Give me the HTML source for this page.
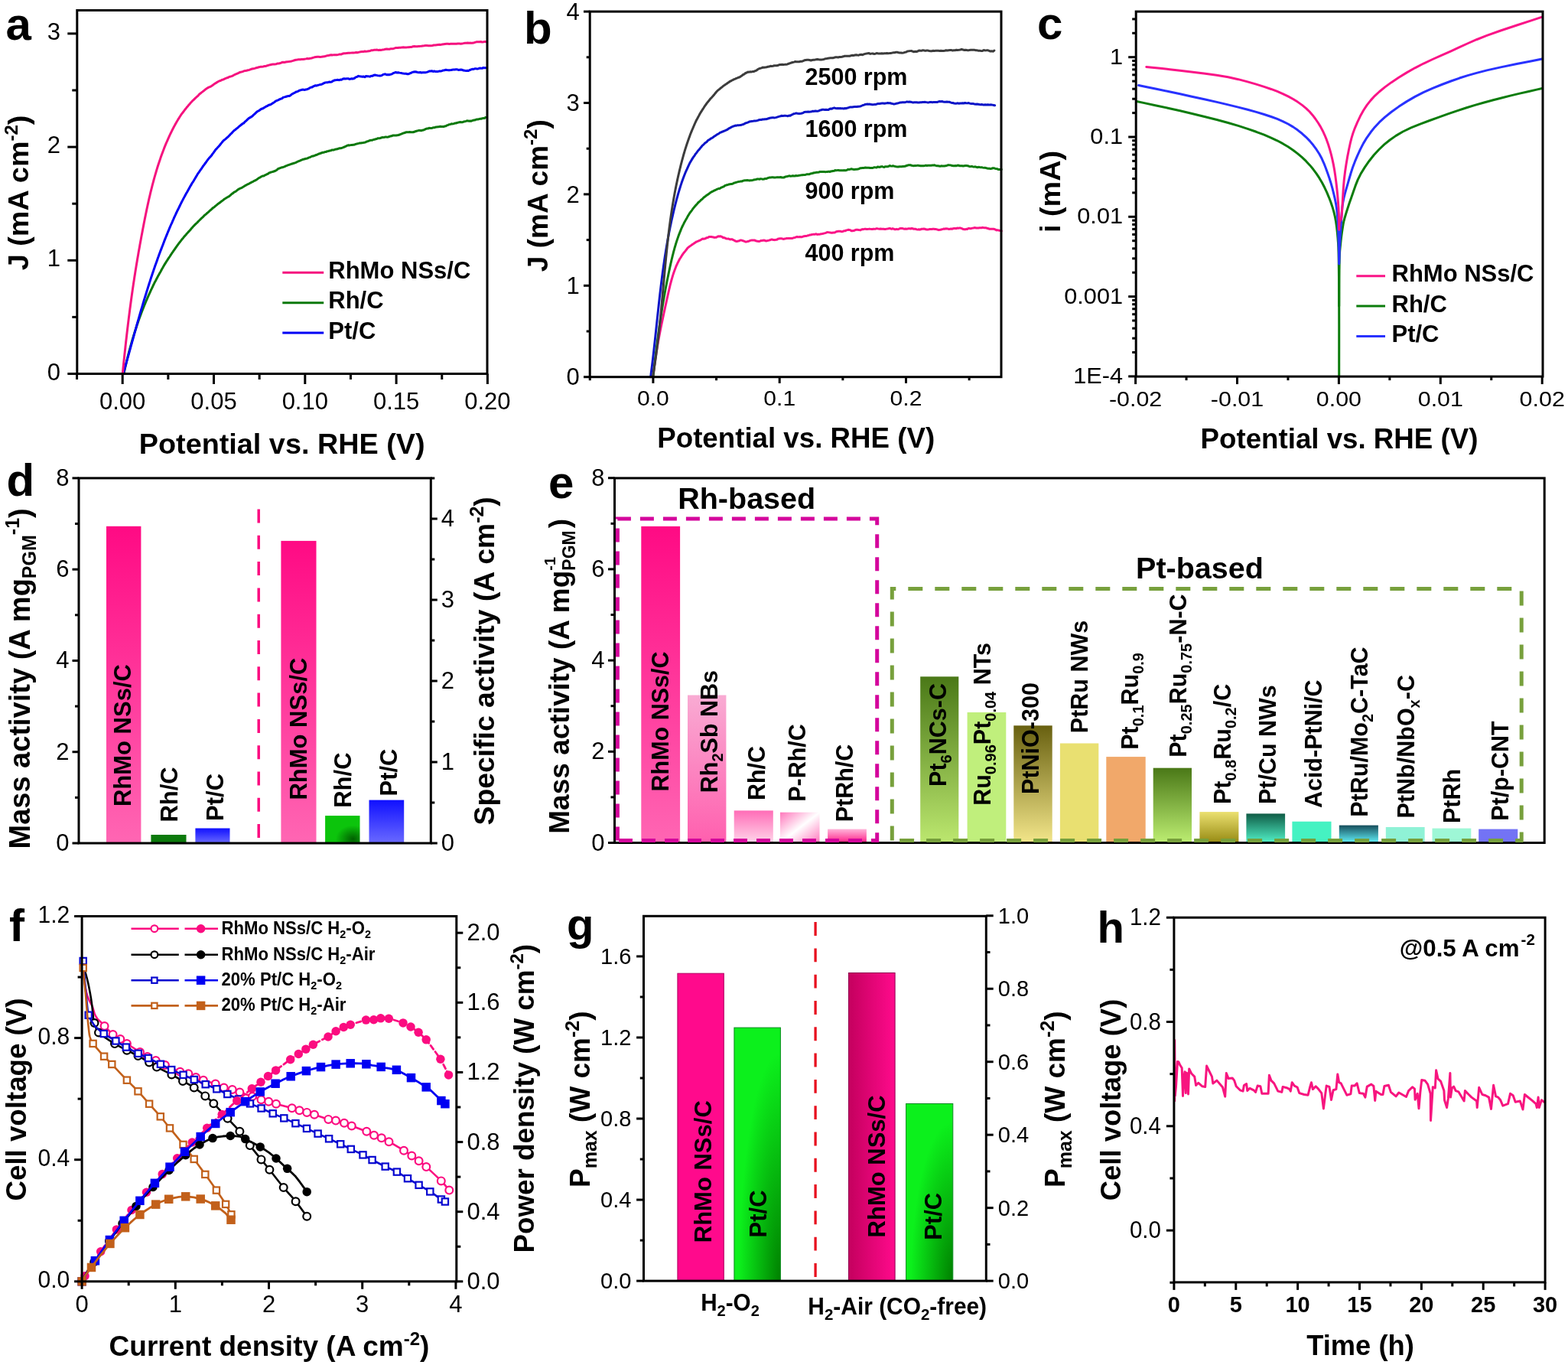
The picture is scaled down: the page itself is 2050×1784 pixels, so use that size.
<!DOCTYPE html>
<html><head><meta charset="utf-8"><title>Figure</title>
<style>html,body{margin:0;padding:0;background:#fff;}svg{display:block;}</style></head>
<body><svg xmlns="http://www.w3.org/2000/svg" width="2050" height="1784" viewBox="0 0 2050 1784" font-family="'Liberation Sans', Arial, sans-serif">
<rect width="2050" height="1784" fill="#fff"/>
<defs>
<linearGradient id="gPink" x1="0" y1="0" x2="0" y2="1"><stop offset="0" stop-color="#ff0a84"/><stop offset="1" stop-color="#ff66b3"/></linearGradient>
<linearGradient id="gBlue" x1="0" y1="0" x2="0" y2="1"><stop offset="0" stop-color="#1010ff"/><stop offset="1" stop-color="#6a6aff"/></linearGradient>
<linearGradient id="gRh2Sb" x1="0" y1="0" x2="0" y2="1"><stop offset="0" stop-color="#f9abd3"/><stop offset="1" stop-color="#ff5fae"/></linearGradient>
<linearGradient id="gRhC" x1="0" y1="0" x2="0" y2="1"><stop offset="0" stop-color="#ff6db7"/><stop offset="1" stop-color="#ffd6ea"/></linearGradient>
<linearGradient id="gPRh" x1="0" y1="0" x2="1" y2="1"><stop offset="0" stop-color="#ff78bc"/><stop offset="0.5" stop-color="#ffffff"/><stop offset="1" stop-color="#ff78bc"/></linearGradient>
<linearGradient id="gPtRh" x1="0" y1="0" x2="0" y2="1"><stop offset="0" stop-color="#ffb5da"/><stop offset="1" stop-color="#ff1f86"/></linearGradient>
<linearGradient id="gPt6" x1="0" y1="0" x2="0" y2="1"><stop offset="0" stop-color="#4a7817"/><stop offset="1" stop-color="#bce76f"/></linearGradient>
<linearGradient id="gPtNiO" x1="0" y1="0" x2="0" y2="1"><stop offset="0" stop-color="#686010"/><stop offset="1" stop-color="#f3e68a"/></linearGradient>
<linearGradient id="gPt25" x1="0" y1="0" x2="0" y2="1"><stop offset="0" stop-color="#4a7817"/><stop offset="1" stop-color="#bdee72"/></linearGradient>
<linearGradient id="gPt08" x1="0" y1="0" x2="0" y2="1"><stop offset="0" stop-color="#ebe070"/><stop offset="1" stop-color="#968a12"/></linearGradient>
<linearGradient id="gPtCu" x1="0" y1="0" x2="0" y2="1"><stop offset="0" stop-color="#0f5c46"/><stop offset="1" stop-color="#52f2c8"/></linearGradient>
<linearGradient id="gPtMo" x1="0" y1="0" x2="0" y2="1"><stop offset="0" stop-color="#174e5c"/><stop offset="1" stop-color="#62f2fa"/></linearGradient>
<radialGradient id="gGreenD" cx="0.8" cy="0.85" r="0.5"><stop offset="0" stop-color="#006000"/><stop offset="1" stop-color="#0cc40c"/></radialGradient>
<linearGradient id="gPtO2" x1="0" y1="0" x2="0" y2="1"><stop offset="0" stop-color="#10ff20"/><stop offset="0.55" stop-color="#10ee20"/><stop offset="1" stop-color="#0a9a10"/></linearGradient>
<radialGradient id="gPtO2r" cx="1.0" cy="1.0" r="0.9"><stop offset="0" stop-color="#008000"/><stop offset="1" stop-color="#0cf01c"/></radialGradient>
<linearGradient id="gRhAir" x1="0" y1="0" x2="1" y2="0"><stop offset="0" stop-color="#c4005e"/><stop offset="1" stop-color="#ff0a8c"/></linearGradient>
</defs>
<polyline points="162.13,487.54 162.44,486.13 162.74,484.69 163.06,483.26 163.37,481.83 163.69,480.41 164.01,478.96 164.34,477.54 164.67,476.12 165.01,474.66 165.35,473.23 165.69,471.78 166.04,470.32 166.39,468.87 166.75,467.41 167.11,465.94 167.47,464.49 167.84,463.05 168.21,461.6 168.59,460.17 168.97,458.75 169.36,457.31 169.74,455.86 170.14,454.42 170.54,452.99 170.94,451.53 171.34,450.1 171.75,448.63 172.17,447.17 172.59,445.68 173.01,444.22 173.44,442.8 173.87,441.35 174.31,439.93 174.75,438.53 175.2,437.1 175.65,435.65 176.1,434.26 176.56,432.82 177.02,431.37 177.49,429.93 177.96,428.47 178.44,427 178.92,425.54 179.41,424.09 179.9,422.69 180.4,421.23 180.9,419.79 181.4,418.34 181.91,416.87 182.43,415.46 182.95,414.02 183.47,412.61 184,411.19 184.53,409.86 185.07,408.34 185.61,407.01 186.16,405.57 186.72,404.17 187.27,402.69 187.84,401.34 188.4,399.87 188.98,398.48 189.56,397.08 190.14,395.75 190.73,394.25 191.32,392.93 191.92,391.57 192.52,390.14 193.13,388.7 193.74,387.37 194.36,385.98 194.98,384.57 195.61,383.19 196.24,381.79 196.88,380.42 197.52,378.98 198.17,377.56 198.83,376.27 199.49,374.84 200.15,373.34 200.82,371.97 201.5,370.64 202.18,369.21 202.86,367.92 203.55,366.71 204.25,365.38 204.95,364.08 205.66,362.71 206.37,361.36 207.09,360.12 207.82,358.8 208.55,357.38 209.28,356.18 210.02,354.92 210.77,353.48 211.52,352.08 212.27,350.84 213.04,349.37 213.8,347.97 214.58,346.63 215.36,345.37 216.14,344.12 216.93,342.85 217.73,341.55 218.53,340.38 219.34,339.13 220.15,337.85 220.97,336.68 221.8,335.5 222.63,334.19 223.47,332.93 224.31,331.56 225.16,330.28 226.01,329.14 226.87,327.93 227.74,326.69 228.61,325.52 229.49,324.21 230.37,322.84 231.26,321.59 232.16,320.34 233.06,319.12 233.97,317.86 234.88,316.76 235.8,315.6 236.73,314.4 237.66,313.08 238.6,312.03 239.54,310.92 240.49,309.7 241.45,308.6 242.41,307.59 243.38,306.5 244.35,305.19 245.33,304.21 246.32,303.1 247.31,302.11 248.3,300.94 249.31,299.89 250.31,298.57 251.33,297.43 252.35,296.23 253.37,295.2 254.4,294.16 255.44,293.16 256.48,292.19 257.53,291.25 258.58,290.11 259.64,288.99 260.7,287.97 261.77,286.97 262.84,285.89 263.92,284.78 265,283.84 266.09,282.81 267.19,281.63 268.29,280.69 269.39,279.89 270.5,278.77 271.62,277.84 272.74,277 273.86,275.81 274.99,274.72 276.13,273.92 277.27,272.74 278.41,271.76 279.56,270.98 280.72,270.11 281.88,268.93 283.04,268.25 284.21,267.18 285.38,266.24 286.56,265.34 287.75,264.63 288.93,263.59 290.13,262.73 291.32,261.87 292.53,260.8 293.73,259.96 294.94,259.25 296.16,258.43 297.38,257.78 298.6,257.06 299.83,256.44 301.06,255.26 302.3,254.15 303.54,253.13 304.79,252.38 306.04,251.22 307.29,250.68 308.54,249.93 309.8,248.9 311.07,247.86 312.34,247.08 313.61,246.43 314.88,245.94 316.16,245.31 317.44,244.59 318.73,243.8 320.02,242.93 321.31,242.13 322.61,241.52 323.91,240.75 325.21,240.37 326.51,239.48 327.82,238.96 329.13,237.93 330.45,237.61 331.76,236.63 333.08,236.14 334.41,235.39 335.73,234.72 337.06,233.61 338.39,232.58 339.72,232.03 341.06,231.13 342.39,230.47 343.74,229.96 345.08,229.95 346.42,228.82 347.77,228.32 349.12,227.71 350.47,227.16 351.83,225.91 353.19,225.49 354.55,224.96 355.91,224.66 357.27,224.22 358.64,223.77 360.01,223.24 361.38,222.48 362.75,221.39 364.13,220.28 365.5,219.96 366.88,219.4 368.26,218.81 369.65,218.68 371.03,218.18 372.42,217.57 373.81,216.96 375.2,216.42 376.6,215.74 377.99,215.39 379.39,214.79 380.79,214.29 382.19,214.1 383.59,213.43 385,213.04 386.41,212.57 387.81,211.94 389.22,211.22 390.64,210.6 392.05,210.12 393.47,209.36 394.88,208.82 396.3,208.24 397.73,208.04 399.15,207.5 400.57,207.31 402,206.87 403.42,206.16 404.85,205.63 406.28,205.04 407.72,204.24 409.15,203.98 410.58,203.72 412.02,202.98 413.46,202.55 414.9,202.02 416.34,201.23 417.78,200.81 419.22,200.26 420.67,199.74 422.12,199.29 423.56,199.15 425.01,198.5 426.46,198.39 427.91,197.68 429.36,197.43 430.82,197.05 432.27,196.85 433.73,196.06 435.18,196.09 436.64,195.91 438.1,195.25 439.56,195.02 441.02,194.77 442.49,194.18 443.95,193.82 445.41,193.74 446.88,193.32 448.34,192.92 449.81,192.22 451.28,191.7 452.75,190.8 454.22,190.16 455.69,189.74 457.16,189.9 458.63,189.61 460.1,189.61 461.58,189.27 463.05,189.15 464.53,188.53 466,188.09 467.48,187.68 468.96,187.4 470.43,186.96 471.91,187.02 473.39,186.65 474.87,186.52 476.35,186.34 477.83,185.91 479.31,184.89 480.79,184.73 482.27,184.05 483.76,183.48 485.24,183.26 486.72,183.27 488.2,182.48 489.69,182.2 491.17,181.77 492.66,181.49 494.14,180.69 495.63,180.75 497.11,180.51 498.6,179.95 500.08,179.5 501.57,179.63 503.05,179.28 504.54,178.9 506.03,179.18 507.51,179.02 509,178.51 510.49,177.95 511.97,177.79 513.46,177.1 514.94,176.95 516.43,177.03 517.92,176.97 519.4,176.73 520.89,176.51 522.38,176.05 523.86,175.44 525.35,174.91 526.83,174.12 528.32,173.75 529.8,173.25 531.29,172.8 532.77,172.65 534.26,172.75 535.74,172.5 537.23,172.68 538.71,172.85 540.19,172.73 541.68,172.24 543.16,171.73 544.64,171.29 546.12,170.88 547.6,170.54 549.08,170.45 550.56,170.7 552.04,170.25 553.52,170.04 555,169.44 556.48,168.63 557.96,168.02 559.43,168.08 560.91,167.35 562.38,167.44 563.86,167.47 565.33,167.2 566.8,166.64 568.28,166.72 569.75,166.06 571.22,165.94 572.69,165.82 574.16,165.69 575.63,165.23 577.09,165.43 578.56,165.5 580.03,165.6 581.49,164.9 582.95,164.8 584.42,163.86 585.88,163.28 587.34,162.64 588.8,162.4 590.26,161.78 591.71,161.89 593.17,161.66 594.63,161.11 596.08,161 597.53,160.54 598.98,160.08 600.43,159.7 601.88,159.6 603.33,159.67 604.78,159.65 606.22,159.07 607.67,158.84 609.11,158.41 610.55,157.87 611.99,157.94 613.43,158.2 614.87,158.1 616.3,158.18 617.74,157.51 619.17,157.07 620.6,157.04 622.03,156.39 623.46,156.02 624.88,156.03 626.31,155.66 627.73,155.28 629.15,155.26 630.57,154.72 631.99,154.61 633.41,154.54 634.82,153.45" fill="none" stroke="#0b780b" stroke-width="3" stroke-linejoin="round" stroke-linecap="round" />
<polyline points="161.56,487.22 162,485.68 162.45,484.09 162.9,482.4 163.34,480.8 163.79,479.18 164.23,477.55 164.68,475.9 165.12,474.32 165.56,472.72 166.01,471.12 166.45,469.55 166.89,467.96 167.33,466.29 167.77,464.73 168.22,463.14 168.66,461.51 169.1,459.93 169.54,458.4 169.98,456.78 170.43,455.17 170.87,453.59 171.31,451.95 171.75,450.37 172.2,448.74 172.64,447.16 173.08,445.55 173.53,443.99 173.97,442.35 174.41,440.8 174.86,439.12 175.31,437.51 175.75,435.9 176.2,434.29 176.65,432.72 177.1,431.18 177.54,429.58 177.99,427.94 178.45,426.36 178.9,424.68 179.35,423.07 179.8,421.53 180.26,420 180.71,418.39 181.17,416.84 181.63,415.25 182.09,413.57 182.55,411.96 183.01,410.31 183.48,408.72 183.94,407.12 184.41,405.55 184.87,403.92 185.34,402.42 185.81,400.84 186.29,399.28 186.76,397.63 187.23,396.05 187.71,394.41 188.19,392.76 188.67,391.18 189.15,389.67 189.64,388.1 190.12,386.49 190.61,384.95 191.1,383.34 191.6,381.75 192.09,380.15 192.59,378.62 193.09,376.99 193.59,375.38 194.09,373.77 194.6,372.17 195.11,370.5 195.62,368.91 196.13,367.38 196.64,365.72 197.16,364.15 197.68,362.58 198.21,360.99 198.73,359.41 199.26,357.85 199.79,356.28 200.33,354.69 200.86,353.12 201.4,351.49 201.95,349.94 202.49,348.31 203.04,346.75 203.59,345.24 204.15,343.7 204.7,342.16 205.27,340.61 205.83,339 206.4,337.36 206.97,335.82 207.54,334.16 208.12,332.58 208.7,331.06 209.29,329.47 209.87,327.84 210.47,326.37 211.06,324.84 211.66,323.28 212.26,321.76 212.87,320.17 213.48,318.57 214.09,316.91 214.71,315.3 215.33,313.63 215.96,312.07 216.59,310.53 217.22,308.95 217.86,307.38 218.5,305.86 219.14,304.27 219.79,302.68 220.45,301.14 221.11,299.51 221.77,297.87 222.44,296.35 223.11,294.77 223.78,293.26 224.46,291.79 225.15,290.3 225.83,288.63 226.53,287.13 227.23,285.48 227.93,283.98 228.63,282.36 229.35,280.88 230.06,279.27 230.78,277.77 231.51,276.14 232.24,274.73 232.98,273.29 233.72,271.79 234.46,270.28 235.21,268.76 235.97,267.16 236.73,265.57 237.5,264.03 238.27,262.6 239.04,261.15 239.83,259.63 240.61,258.13 241.4,256.74 242.2,255.21 243,253.76 243.81,252.36 244.63,250.98 245.45,249.43 246.27,248.05 247.1,246.63 247.94,244.93 248.78,243.42 249.63,242.2 250.48,240.55 251.34,239.05 252.2,237.95 253.07,236.53 253.95,234.97 254.83,233.55 255.72,232.01 256.62,230.47 257.52,228.99 258.42,227.36 259.34,226.13 260.26,224.88 261.18,223.51 262.11,222.16 263.05,220.92 264,219.47 264.95,218 265.9,216.69 266.87,215.41 267.84,214.04 268.81,212.78 269.8,211.4 270.79,209.99 271.78,208.56 272.79,207.38 273.8,206.04 274.81,205.12 275.83,204.03 276.87,202.76 277.9,201.17 278.95,199.88 280,198.29 281.06,196.79 282.12,195.43 283.19,194.39 284.27,193.09 285.36,191.94 286.45,190.76 287.55,189.55 288.66,187.91 289.78,186.62 290.9,185.24 292.03,183.9 293.17,182.97 294.31,182.11 295.46,181.2 296.62,180.15 297.79,179.17 298.96,177.94 300.14,176.94 301.33,175.34 302.53,174.35 303.73,173.12 304.94,171.74 306.15,170.58 307.38,169.75 308.61,168.69 309.84,167.7 311.09,166.86 312.34,165.38 313.59,164.55 314.86,163.53 316.13,162.49 317.4,161.46 318.68,160.98 319.97,159.46 321.27,158.29 322.57,157.12 323.88,155.82 325.2,154.65 326.52,153.91 327.84,153.14 329.18,152.36 330.52,151.27 331.86,149.82 333.22,148.78 334.57,147.42 335.94,146.08 337.31,145.18 338.68,144.65 340.07,143.5 341.45,142.49 342.85,142.01 344.25,141.52 345.65,140.52 347.06,139.67 348.48,138.94 349.9,138.31 351.33,137.3 352.76,137.08 354.2,136.36 355.65,135.56 357.1,134.52 358.55,133.67 360.01,132.48 361.48,131.57 362.95,131.04 364.43,130.42 365.91,129.72 367.39,129.03 368.89,128.57 370.38,127.13 371.89,126.86 373.39,126.52 374.9,126.02 376.42,125.57 377.94,125.56 379.47,124.82 381,123.52 382.53,122.59 384.07,121.75 385.62,121.04 387.16,119.98 388.72,119.7 390.27,118.84 391.83,118.07 393.4,117.69 394.97,117.21 396.54,117.11 398.11,117.42 399.69,117.07 401.28,116.72 402.86,116.14 404.45,115.36 406.05,114.18 407.65,114.11 409.25,113.15 410.85,112.39 412.46,111.69 414.07,111.99 415.68,111.27 417.3,110.89 418.92,110.47 420.54,110.28 422.16,109.37 423.79,108.47 425.42,107.87 427.05,107.71 428.69,107.72 430.32,107.01 431.96,107.2 433.61,107.02 435.25,105.82 436.9,105.04 438.54,104.68 440.2,104.58 441.85,104.36 443.5,104.73 445.16,104.06 446.81,104.14 448.47,102.96 450.13,102.8 451.8,102.96 453.46,102.75 455.12,102.7 456.79,103.48 458.46,103.09 460.13,102.75 461.8,102.91 463.47,102.24 465.14,100.93 466.81,100.42 468.49,99.37 470.16,99.87 471.84,99.89 473.51,100.26 475.19,99.96 476.87,100.77 478.55,99.45 480.23,99.65 481.91,99.86 483.59,100.13 485.27,99.19 486.96,99.37 488.64,98.31 490.32,98 492.01,98.35 493.69,98.69 495.38,98.88 497.07,98.93 498.75,98.67 500.44,97.67 502.13,97.1 503.81,96.86 505.5,97.74 507.19,97.54 508.88,97.75 510.57,97.16 512.25,96.87 513.94,95.66 515.63,95.07 517.32,94.47 519.01,95.01 520.7,94.71 522.38,95.11 524.07,95.38 525.76,95.75 527.45,96.08 529.14,96.36 530.83,96.29 532.51,96.75 534.2,96.72 535.89,95.85 537.57,95.24 539.26,94.41 540.94,93.96 542.63,93.67 544.31,94.07 546,94.51 547.68,94.66 549.36,94.52 551.05,94.98 552.73,94.76 554.41,94.71 556.09,94.82 557.77,94.38 559.45,93.82 561.12,93.1 562.8,92.95 564.48,92.77 566.15,93.42 567.82,93.02 569.5,93.58 571.17,93.38 572.84,93.4 574.51,93 576.18,93.07 577.85,92.6 579.51,91.95 581.18,91.74 582.84,91.27 584.5,91.5 586.16,91.63 587.82,91.78 589.48,91.63 591.14,91.18 592.79,90.89 594.45,91.04 596.1,90.72 597.75,90.77 599.4,91.49 601.05,91.28 602.69,91.09 604.34,91.27 605.98,92.02 607.62,92.13 609.26,92.62 610.89,92.21 612.53,92.43 614.16,91.45 615.79,90.99 617.42,90.28 619.05,90.41 620.67,89.81 622.3,89.81 623.92,90.11 625.53,89.7 627.15,89.07 628.77,89.31 630.38,89.3 631.99,88.45 633.59,88.68 635.2,88.66" fill="none" stroke="#0000f5" stroke-width="3" stroke-linejoin="round" stroke-linecap="round" />
<polyline points="160.35,487.56 160.54,485.73 160.72,483.9 160.91,482.06 161.09,480.22 161.28,478.39 161.47,476.55 161.66,474.72 161.85,472.89 162.04,471.06 162.23,469.23 162.43,467.39 162.62,465.56 162.82,463.72 163.01,461.89 163.21,460.06 163.41,458.23 163.61,456.4 163.81,454.57 164.01,452.74 164.21,450.9 164.42,449.06 164.62,447.23 164.83,445.4 165.04,443.57 165.25,441.73 165.46,439.9 165.67,438.07 165.88,436.23 166.1,434.4 166.31,432.57 166.53,430.75 166.75,428.91 166.97,427.08 167.19,425.25 167.41,423.42 167.63,421.59 167.86,419.75 168.09,417.93 168.31,416.1 168.54,414.28 168.78,412.45 169.01,410.63 169.24,408.79 169.48,406.97 169.72,405.14 169.95,403.31 170.19,401.48 170.44,399.66 170.68,397.84 170.93,396.03 171.17,394.2 171.42,392.37 171.67,390.55 171.92,388.73 172.18,386.91 172.43,385.09 172.69,383.28 172.95,381.46 173.21,379.65 173.47,377.83 173.74,376.01 174,374.19 174.27,372.38 174.54,370.55 174.82,368.74 175.09,366.93 175.37,365.12 175.64,363.31 175.92,361.51 176.2,359.71 176.49,357.91 176.77,356.11 177.06,354.3 177.35,352.5 177.64,350.69 177.94,348.87 178.23,347.06 178.53,345.26 178.83,343.45 179.13,341.65 179.43,339.86 179.74,338.05 180.05,336.25 180.36,334.45 180.67,332.65 180.98,330.85 181.29,329.07 181.61,327.28 181.93,325.49 182.25,323.7 182.57,321.89 182.89,320.09 183.22,318.29 183.54,316.49 183.87,314.69 184.2,312.9 184.53,311.09 184.87,309.31 185.2,307.51 185.54,305.72 185.88,303.93 186.22,302.12 186.56,300.31 186.9,298.5 187.25,296.71 187.59,294.91 187.94,293.11 188.29,291.31 188.64,289.5 189,287.7 189.36,285.91 189.72,284.12 190.08,282.33 190.45,280.55 190.81,278.73 191.19,276.93 191.56,275.11 191.94,273.29 192.32,271.5 192.71,269.71 193.1,267.89 193.49,266.11 193.89,264.31 194.29,262.49 194.7,260.68 195.11,258.89 195.53,257.1 195.95,255.3 196.38,253.5 196.81,251.71 197.25,249.91 197.69,248.11 198.14,246.32 198.6,244.52 199.06,242.7 199.53,240.88 200,239.09 200.48,237.3 200.97,235.5 201.46,233.72 201.96,231.93 202.47,230.15 202.98,228.36 203.51,226.55 204.04,224.77 204.57,222.95 205.12,221.11 205.67,219.3 206.23,217.52 206.8,215.75 207.38,214.02 207.97,212.27 208.56,210.51 209.17,208.71 209.78,206.89 210.4,205.09 211.03,203.35 211.68,201.55 212.33,199.76 212.99,198.02 213.66,196.27 214.34,194.41 215.03,192.66 215.73,190.92 216.44,189.19 217.17,187.43 217.9,185.73 218.65,184.03 219.4,182.31 220.17,180.53 220.95,178.85 221.74,177.1 222.55,175.41 223.36,173.74 224.19,172.05 225.03,170.3 225.88,168.68 226.75,166.95 227.63,165.3 228.52,163.77 229.42,162.04 230.34,160.4 231.27,158.78 232.22,157.3 233.18,155.57 234.15,154.12 235.14,152.55 236.14,150.99 237.16,149.41 238.19,148.06 239.23,146.71 240.3,145.29 241.37,143.91 242.46,142.53 243.57,141.17 244.7,139.65 245.83,138.42 246.99,136.98 248.16,135.7 249.35,134.33 250.55,133.06 251.77,131.71 253.01,130.64 254.27,129.42 255.54,128.18 256.82,126.97 258.12,125.84 259.44,124.5 260.77,122.97 262.12,121.97 263.48,120.87 264.86,119.86 266.25,118.78 267.66,117.58 269.08,116.48 270.51,115.55 271.96,114.62 273.42,113.87 274.89,113.38 276.38,112.5 277.88,111.51 279.39,110.39 280.91,109.23 282.45,108.39 284,107.33 285.56,106.48 287.13,105.75 288.71,105.31 290.31,104.28 291.91,103.96 293.53,103.18 295.15,102.47 296.79,101.75 298.43,101.24 300.09,100.23 301.76,99.96 303.43,99.3 305.11,98.55 306.81,97.55 308.51,96.76 310.22,96.02 311.94,95.29 313.66,94.44 315.4,94.06 317.14,93.57 318.89,92.92 320.64,92.4 322.41,92.22 324.18,91.66 325.95,91.38 327.73,90.65 329.52,90.03 331.32,89.68 333.12,89.37 334.93,88.69 336.74,88.29 338.55,87.82 340.38,87.35 342.2,87.16 344.03,86.9 345.87,86.57 347.71,86.43 349.55,85.72 351.4,85.16 353.24,84.71 355.1,84.32 356.95,84.07 358.81,84.06 360.67,83.87 362.54,83.08 364.4,83.08 366.27,82.56 368.14,81.8 370.01,81.21 371.88,81.48 373.75,81.04 375.63,80.76 377.5,80.57 379.38,80.28 381.25,79.93 383.13,79.39 385,78.76 386.87,78.32 388.75,78.01 390.62,77.63 392.49,77.82 394.36,77.46 396.23,77.4 398.1,77.14 399.96,76.87 401.83,76.43 403.69,76.68 405.55,76.3 407.4,75.95 409.26,75.37 411.11,74.84 412.96,74.59 414.81,74.32 416.66,74.32 418.5,74.48 420.35,74.33 422.19,74.06 424.03,73.85 425.87,73.31 427.7,72.7 429.54,72.57 431.37,72.05 433.2,71.78 435.03,71.88 436.86,71.73 438.69,71.67 440.52,71.65 442.34,71.38 444.17,70.87 445.99,71.02 447.81,70.22 449.63,69.75 451.45,69.64 453.27,69.6 455.09,69.17 456.9,69.28 458.72,69.12 460.53,68.89 462.34,68.9 464.16,68.82 465.97,68.45 467.78,68.66 469.59,68.1 471.4,67.67 473.2,67.48 475.01,67.57 476.82,67.06 478.63,67.18 480.43,67.09 482.24,66.74 484.04,66.45 485.85,65.68 487.65,65.65 489.46,65.19 491.26,65.24 493.06,65.11 494.87,65.65 496.67,65.31 498.47,65.38 500.27,64.95 502.08,64.68 503.88,64.33 505.68,64.07 507.49,64.21 509.29,64.25 511.09,63.64 512.89,63.68 514.7,63.41 516.5,62.81 518.3,62.39 520.11,62.53 521.91,62.24 523.72,62.3 525.52,61.9 527.33,61.86 529.13,61.89 530.94,62.04 532.75,61.87 534.56,61.77 536.36,61.55 538.17,61.45 539.98,60.78 541.79,60.57 543.6,60.77 545.42,60.7 547.23,60.47 549.04,60.38 550.86,60.22 552.67,59.91 554.49,59.74 556.31,59.49 558.13,59.56 559.95,59.7 561.77,59.74 563.59,59.73 565.42,59.49 567.24,59.05 569.07,58.97 570.9,58.73 572.73,58.53 574.56,58.34 576.39,58.4 578.22,57.98 580.06,57.68 581.89,57.41 583.73,57.22 585.57,57.15 587.41,57.39 589.26,57.29 591.1,57.32 592.95,57.28 594.8,57.27 596.65,57.29 598.5,57.07 600.36,56.88 602.21,57.27 604.07,57.09 605.93,56.63 607.8,56.35 609.66,56.25 611.53,56.03 613.4,56.13 615.27,56.12 617.15,56.3 619.02,56.08 620.9,55.43 622.78,54.81 624.67,54.8 626.55,54.78 628.44,54.54 630.33,55.06 632.23,54.83 634.12,54.41 636.02,54.75" fill="none" stroke="#f5127e" stroke-width="3" stroke-linejoin="round" stroke-linecap="round" />
<rect x="100.8" y="13.5" width="536.2" height="475" fill="none" stroke="#000" stroke-width="3"/>
<line x1="160.2" y1="488.5" x2="160.2" y2="502" stroke="#000" stroke-width="3" />
<line x1="279.5" y1="488.5" x2="279.5" y2="502" stroke="#000" stroke-width="3" />
<line x1="398.8" y1="488.5" x2="398.8" y2="502" stroke="#000" stroke-width="3" />
<line x1="518.1" y1="488.5" x2="518.1" y2="502" stroke="#000" stroke-width="3" />
<line x1="637.4" y1="488.5" x2="637.4" y2="502" stroke="#000" stroke-width="3" />
<line x1="100.55" y1="488.5" x2="100.55" y2="496" stroke="#000" stroke-width="3" />
<line x1="219.85" y1="488.5" x2="219.85" y2="496" stroke="#000" stroke-width="3" />
<line x1="339.15" y1="488.5" x2="339.15" y2="496" stroke="#000" stroke-width="3" />
<line x1="458.45" y1="488.5" x2="458.45" y2="496" stroke="#000" stroke-width="3" />
<line x1="577.75" y1="488.5" x2="577.75" y2="496" stroke="#000" stroke-width="3" />
<line x1="100.8" y1="488.5" x2="88.3" y2="488.5" stroke="#000" stroke-width="3" />
<line x1="100.8" y1="340.3" x2="88.3" y2="340.3" stroke="#000" stroke-width="3" />
<line x1="100.8" y1="192.1" x2="88.3" y2="192.1" stroke="#000" stroke-width="3" />
<line x1="100.8" y1="43.9" x2="88.3" y2="43.9" stroke="#000" stroke-width="3" />
<line x1="100.8" y1="414.4" x2="94.3" y2="414.4" stroke="#000" stroke-width="3" />
<line x1="100.8" y1="266.2" x2="94.3" y2="266.2" stroke="#000" stroke-width="3" />
<line x1="100.8" y1="118" x2="94.3" y2="118" stroke="#000" stroke-width="3" />
<text x="160.2" y="535.4" font-size="31" text-anchor="middle" fill="#000">0.00</text>
<text x="279.5" y="535.4" font-size="31" text-anchor="middle" fill="#000">0.05</text>
<text x="398.8" y="535.4" font-size="31" text-anchor="middle" fill="#000">0.10</text>
<text x="518.1" y="535.4" font-size="31" text-anchor="middle" fill="#000">0.15</text>
<text x="637.4" y="535.4" font-size="31" text-anchor="middle" fill="#000">0.20</text>
<text x="79" y="496.5" font-size="31" text-anchor="end" fill="#000">0</text>
<text x="79" y="348.3" font-size="31" text-anchor="end" fill="#000">1</text>
<text x="79" y="200.1" font-size="31" text-anchor="end" fill="#000">2</text>
<text x="79" y="51.9" font-size="31" text-anchor="end" fill="#000">3</text>
<line x1="369.3" y1="356.2" x2="423.2" y2="356.2" stroke="#f5127e" stroke-width="3" />
<text x="429.3" y="363.8" font-size="31" font-weight="bold" text-anchor="start" fill="#000">RhMo NSs/C</text>
<line x1="369.3" y1="395.65" x2="423.2" y2="395.65" stroke="#0b780b" stroke-width="3" />
<text x="429.3" y="403.25" font-size="31" font-weight="bold" text-anchor="start" fill="#000">Rh/C</text>
<line x1="369.3" y1="435.1" x2="423.2" y2="435.1" stroke="#0000f5" stroke-width="3" />
<text x="429.3" y="442.7" font-size="31" font-weight="bold" text-anchor="start" fill="#000">Pt/C</text>
<text x="368.7" y="592.7" font-size="37.8" font-weight="bold" text-anchor="middle" fill="#000">Potential vs. RHE (V)</text>
<text x="36.7" y="251.9" font-size="37.8" font-weight="bold" text-anchor="middle" transform="rotate(-90 36.7 251.9)">J (mA cm<tspan font-size="24" dy="-14">-2</tspan><tspan dy="14">)</tspan></text>
<text x="7.5" y="51.5" font-size="60" font-weight="bold" text-anchor="start" fill="#000">a</text>
<polyline points="853.98,493 854.13,491.59 854.27,490.18 854.42,488.78 854.57,487.39 854.73,486 854.89,484.62 855.05,483.24 855.21,481.87 855.37,480.51 855.54,479.15 855.71,477.81 855.88,476.47 856.06,475.12 856.24,473.79 856.42,472.45 856.6,471.12 856.79,469.79 856.97,468.47 857.16,467.14 857.36,465.83 857.55,464.53 857.75,463.23 857.95,461.93 858.15,460.64 858.35,459.35 858.56,458.05 858.77,456.77 858.98,455.47 859.19,454.18 859.41,452.89 859.62,451.63 859.84,450.34 860.06,449.08 860.29,447.84 860.51,446.58 860.74,445.32 860.97,444.05 861.2,442.79 861.43,441.51 861.67,440.25 861.9,438.98 862.14,437.74 862.38,436.47 862.63,435.22 862.87,433.95 863.12,432.71 863.36,431.45 863.61,430.21 863.86,428.95 864.12,427.71 864.37,426.43 864.63,425.19 864.89,423.92 865.14,422.68 865.41,421.41 865.67,420.16 865.93,418.88 866.2,417.63 866.46,416.35 866.73,415.1 867,413.83 867.27,412.57 867.55,411.29 867.82,410.02 868.09,408.73 868.37,407.45 868.65,406.16 868.93,404.86 869.21,403.56 869.49,402.28 869.77,401 870.06,399.72 870.34,398.44 870.63,397.15 870.91,395.84 871.2,394.51 871.49,393.19 871.78,391.88 872.07,390.54 872.37,389.2 872.66,387.88 872.95,386.54 873.25,385.19 873.55,383.86 873.85,382.51 874.16,381.16 874.47,379.83 874.78,378.47 875.09,377.12 875.42,375.79 875.74,374.39 876.07,373.02 876.41,371.67 876.75,370.33 877.11,368.99 877.46,367.67 877.83,366.36 878.2,365 878.58,363.67 878.97,362.35 879.37,361.03 879.77,359.65 880.19,358.34 880.62,357.02 881.06,355.71 881.51,354.47 881.97,353.21 882.44,351.97 882.92,350.72 883.42,349.45 883.93,348.08 884.45,346.91 884.98,345.78 885.53,344.59 886.1,343.37 886.68,342.28 887.27,341.09 887.88,339.95 888.51,338.79 889.15,337.73 889.81,336.76 890.48,335.66 891.18,334.55 891.89,333.41 892.62,332.32 893.37,331.23 894.14,330.36 894.92,329.27 895.73,328.4 896.56,327.32 897.4,326.23 898.27,325.08 899.16,324.02 900.08,323.17 901.01,322.5 901.97,321.87 902.95,321.16 903.95,320.42 904.97,319.59 906.02,318.98 907.08,318.29 908.16,317.51 909.26,316.87 910.38,315.97 911.51,315.58 912.66,315.11 913.83,314.62 915.01,314.05 916.2,313.58 917.4,312.82 918.62,312.11 919.85,312.2 921.08,311.98 922.33,311.74 923.59,310.83 924.85,310.82 926.12,310.1 927.4,309.43 928.68,309.46 929.97,309.49 931.26,309.86 932.56,309.99 933.85,310.45 935.15,310.34 936.45,310.22 937.75,309.4 939.05,308.85 940.35,308.97 941.64,308.67 942.94,309.16 944.22,309.71 945.51,310.72 946.79,310.62 948.06,311.09 949.33,311.84 950.6,312.13 951.87,311.91 953.14,312.37 954.41,312.9 955.68,312.74 956.96,312.66 958.24,313.42 959.53,313.95 960.82,314.79 962.11,315.21 963.4,315.48 964.7,315.07 966,314.97 967.3,314.24 968.6,313.89 969.9,314.14 971.2,314.75 972.51,315.01 973.81,315.67 975.12,316.17 976.43,315.83 977.73,315.51 979.04,315.22 980.34,314.62 981.65,314.14 982.96,313.94 984.27,313.89 985.57,313.99 986.88,314.11 988.19,314.81 989.5,315.17 990.81,315.26 992.12,315.46 993.43,315.32 994.73,314.44 996.04,314.51 997.35,314.13 998.66,314.08 999.98,314.28 1001.29,314.9 1002.6,314.82 1003.91,314.39 1005.22,314.15 1006.53,313.81 1007.84,313.29 1009.15,312.89 1010.47,313.46 1011.78,313.39 1013.09,313.67 1014.4,313.33 1015.72,313.17 1017.03,312.3 1018.34,311.93 1019.66,311.7 1020.97,311.78 1022.28,311.84 1023.6,312.32 1024.91,312.44 1026.23,311.95 1027.54,311.79 1028.85,311.4 1030.17,311.61 1031.48,311.47 1032.8,311.48 1034.11,311.57 1035.43,311.61 1036.74,311.08 1038.06,310.61 1039.38,310.4 1040.69,309.88 1042.01,309.53 1043.32,309.7 1044.64,309.7 1045.95,309.62 1047.27,309.69 1048.59,309.68 1049.9,309.2 1051.22,308.75 1052.54,308.6 1053.85,308.53 1055.17,308.16 1056.49,307.71 1057.8,307.44 1059.12,306.96 1060.44,306.94 1061.75,306.38 1063.07,306.32 1064.39,306.23 1065.7,306.15 1067.02,305.78 1068.34,306.42 1069.65,306.32 1070.97,306.25 1072.29,306.07 1073.61,305.84 1074.92,305.61 1076.24,305.32 1077.56,304.91 1078.87,304.58 1080.19,304.17 1081.51,303.45 1082.83,303.63 1084.14,303.81 1085.46,303.89 1086.78,304.32 1088.09,304.33 1089.41,304.08 1090.73,304.02 1092.04,303.55 1093.36,302.67 1094.68,302.45 1095.99,302.33 1097.31,302.29 1098.63,302.22 1099.94,302.68 1101.26,302.66 1102.58,302.21 1103.89,301.63 1105.21,301.7 1106.53,300.88 1107.84,300.6 1109.16,300.27 1110.47,300.39 1111.79,300.83 1113.11,301.79 1114.42,301.83 1115.74,301.6 1117.05,301.27 1118.37,300.44 1119.68,300.16 1121,300.27 1122.31,300.41 1123.63,300.63 1124.94,300.89 1126.26,299.94 1127.57,299.6 1128.89,299.63 1130.2,299.34 1131.51,299.17 1132.83,299.41 1134.14,299.52 1135.46,299.38 1136.77,299.1 1138.08,299.38 1139.4,299.5 1140.71,299.51 1142.02,299.23 1143.34,299.36 1144.65,299.16 1145.96,298.73 1147.27,298.86 1148.59,299.12 1149.9,299.23 1151.21,298.98 1152.53,299.32 1153.84,299.33 1155.15,299.31 1156.46,299.58 1157.78,299.41 1159.09,299.13 1160.4,299 1161.71,298.84 1163.03,298.38 1164.34,298.78 1165.65,299.3 1166.97,298.7 1168.28,299.08 1169.59,299.63 1170.91,299.71 1172.22,299.37 1173.53,299.66 1174.85,299.48 1176.16,298.76 1177.47,298.43 1178.79,298.45 1180.1,298.58 1181.41,298.95 1182.73,299.19 1184.04,298.92 1185.36,299.23 1186.67,299.03 1187.98,298.65 1189.3,298.69 1190.61,298.98 1191.93,298.5 1193.24,298.72 1194.56,299.37 1195.88,299.27 1197.19,299.34 1198.51,299.87 1199.82,300.12 1201.14,299.8 1202.46,300.17 1203.77,299.74 1205.09,299.28 1206.41,299.14 1207.73,299.09 1209.04,299.21 1210.36,299.8 1211.68,299.96 1213,299.94 1214.32,299.78 1215.64,299.53 1216.96,299.58 1218.28,299.56 1219.6,299.35 1220.92,299.2 1222.24,299.4 1223.56,299.54 1224.88,299.85 1226.2,300.24 1227.52,300.63 1228.85,300.35 1230.17,300.18 1231.49,299.67 1232.82,299.39 1234.14,298.99 1235.47,299.14 1236.79,298.81 1238.12,299 1239.44,299.11 1240.77,299.57 1242.09,299.16 1243.42,299.02 1244.75,299.2 1246.08,298.78 1247.4,298.51 1248.73,298.51 1250.06,298.66 1251.39,297.97 1252.72,298.35 1254.05,298.06 1255.37,297.93 1256.7,298.4 1258.03,298.95 1259.36,299.57 1260.69,299.74 1262.01,299.83 1263.34,299.31 1264.67,299.49 1266,298.6 1267.32,298.58 1268.65,298.76 1269.97,298.5 1271.3,298.13 1272.62,298.01 1273.95,297.6 1275.27,297.69 1276.59,298.08 1277.91,298.08 1279.24,298.01 1280.56,297.86 1281.87,297.82 1283.19,297.69 1284.51,297.33 1285.83,297.61 1287.14,297.81 1288.45,297.78 1289.77,297.95 1291.08,298.55 1292.39,298.75 1293.7,299.29 1295.01,299.18 1296.31,299.23 1297.62,299.21 1298.92,299.3 1300.22,299.54 1301.52,300.18 1302.82,300.89 1304.12,300.67 1305.41,301.09 1306.71,301.27 1308,301.4 1309.29,301.93" fill="none" stroke="#fa1487" stroke-width="3" stroke-linejoin="round" stroke-linecap="round" />
<polyline points="853.89,492.7 854.05,491.24 854.21,489.8 854.37,488.36 854.53,486.91 854.69,485.48 854.85,484.04 855.01,482.59 855.17,481.15 855.34,479.71 855.5,478.27 855.67,476.84 855.83,475.42 856,474 856.16,472.57 856.33,471.15 856.5,469.72 856.67,468.29 856.84,466.86 857.01,465.43 857.18,464.01 857.35,462.58 857.53,461.17 857.7,459.75 857.87,458.33 858.05,456.91 858.23,455.5 858.4,454.08 858.58,452.67 858.76,451.26 858.94,449.85 859.13,448.43 859.31,447.01 859.49,445.6 859.68,444.18 859.86,442.77 860.05,441.36 860.24,439.96 860.43,438.55 860.62,437.15 860.81,435.74 861.01,434.33 861.2,432.91 861.4,431.51 861.6,430.1 861.8,428.69 862,427.3 862.2,425.89 862.4,424.48 862.61,423.08 862.81,421.69 863.02,420.27 863.23,418.87 863.44,417.48 863.65,416.07 863.86,414.67 864.08,413.28 864.3,411.87 864.52,410.47 864.74,409.08 864.96,407.66 865.18,406.26 865.41,404.86 865.63,403.46 865.86,402.04 866.09,400.65 866.33,399.25 866.56,397.85 866.8,396.44 867.03,395.06 867.27,393.65 867.52,392.24 867.76,390.82 868.01,389.42 868.25,388.01 868.5,386.6 868.76,385.19 869.01,383.8 869.26,382.36 869.52,380.94 869.78,379.51 870.04,378.1 870.31,376.69 870.58,375.31 870.84,373.89 871.12,372.5 871.39,371.08 871.66,369.64 871.94,368.21 872.22,366.8 872.5,365.37 872.79,363.94 873.07,362.54 873.36,361.11 873.66,359.7 873.95,358.28 874.25,356.9 874.55,355.47 874.85,354.04 875.15,352.6 875.46,351.15 875.77,349.7 876.08,348.28 876.39,346.83 876.71,345.4 877.03,343.99 877.36,342.52 877.69,341.08 878.02,339.66 878.36,338.25 878.71,336.81 879.06,335.39 879.41,333.95 879.77,332.55 880.13,331.08 880.51,329.68 880.88,328.24 881.27,326.83 881.66,325.37 882.06,323.95 882.47,322.49 882.88,321.12 883.3,319.7 883.73,318.27 884.17,316.91 884.62,315.55 885.07,314.13 885.54,312.77 886.01,311.36 886.49,309.97 886.99,308.52 887.49,307.15 888.01,305.84 888.53,304.53 889.07,303.14 889.62,301.81 890.17,300.42 890.74,298.96 891.33,297.69 891.92,296.31 892.53,295.01 893.15,293.82 893.78,292.58 894.42,291.21 895.08,290.08 895.75,288.85 896.43,287.63 897.12,286.34 897.83,285.29 898.55,283.89 899.28,282.55 900.03,281.22 900.78,280.07 901.56,278.77 902.34,277.66 903.14,276.68 903.95,275.68 904.78,274.53 905.62,273.27 906.47,272.18 907.33,271.1 908.21,269.97 909.11,268.94 910.02,267.93 910.94,266.94 911.87,265.94 912.82,264.77 913.79,263.98 914.77,263.16 915.76,262.25 916.77,261.12 917.79,260.49 918.82,259.42 919.88,258.3 920.94,257.51 922.02,256.7 923.12,255.83 924.23,255.04 925.35,254.39 926.49,253.51 927.64,252.75 928.8,251.68 929.98,250.93 931.17,250.48 932.37,249.78 933.58,249.19 934.8,248.59 936.04,248.06 937.28,247.34 938.54,246.92 939.8,246.43 941.08,246.42 942.37,245.44 943.66,244.84 944.97,244.24 946.28,243.86 947.6,242.59 948.94,242.19 950.27,241.74 951.62,241.42 952.98,241.04 954.34,240.64 955.71,240.55 957.08,240.45 958.46,239.86 959.85,239.02 961.25,238.87 962.65,238.2 964.05,237.89 965.46,237.53 966.88,237.38 968.3,237.06 969.73,237.07 971.16,236.32 972.59,235.9 974.03,235.75 975.47,235.68 976.92,235.6 978.36,235.63 979.82,235.94 981.27,235.74 982.73,235.67 984.19,235.43 985.65,235.02 987.11,234.85 988.58,234.56 990.04,233.95 991.51,234.04 992.98,234.23 994.45,233.66 995.92,233.87 997.38,234.34 998.85,234.06 1000.32,233.48 1001.79,233.52 1003.26,232.9 1004.72,232.38 1006.19,231.94 1007.65,231.88 1009.11,231.81 1010.57,231.73 1012.03,231.89 1013.49,231.92 1014.94,231.83 1016.39,231.61 1017.84,231.82 1019.29,231.79 1020.74,231.54 1022.18,231.95 1023.62,231.9 1025.06,231.88 1026.5,231.13 1027.94,230.78 1029.38,230.5 1030.81,230.15 1032.24,229.81 1033.68,230.26 1035.11,230.01 1036.54,229.67 1037.96,230.03 1039.39,229.95 1040.82,229.53 1042.24,229.85 1043.66,229.58 1045.09,229.14 1046.51,229.1 1047.93,228.86 1049.35,228.71 1050.77,228.62 1052.19,228.45 1053.61,228.17 1055.03,227.81 1056.44,227.79 1057.86,227.76 1059.28,227.16 1060.69,226.73 1062.11,226.48 1063.52,225.97 1064.94,225.69 1066.35,225.51 1067.77,225.23 1069.18,225.21 1070.6,224.96 1072.01,224.54 1073.43,224.4 1074.84,224.57 1076.26,224.57 1077.67,224.39 1079.09,224.65 1080.51,224.62 1081.92,224.55 1083.34,224.15 1084.76,224.53 1086.17,224.04 1087.59,223.8 1089.01,223.54 1090.43,223.37 1091.85,222.62 1093.27,222.64 1094.69,222.61 1096.11,222.47 1097.53,222.68 1098.95,222.86 1100.37,222.69 1101.79,222.84 1103.21,222.61 1104.63,222.7 1106.06,222.73 1107.48,222.09 1108.9,221.37 1110.32,221.61 1111.75,221.11 1113.17,220.8 1114.59,221.11 1116.02,221.47 1117.44,221.5 1118.87,221.31 1120.29,221.16 1121.72,221.07 1123.14,220.62 1124.57,219.76 1125.99,219.75 1127.42,219.61 1128.85,219.59 1130.27,219.27 1131.7,218.99 1133.13,219.34 1134.55,219.19 1135.98,219.18 1137.41,219.45 1138.84,219.55 1140.27,219.55 1141.69,219.2 1143.12,218.68 1144.55,218.85 1145.98,218.92 1147.41,217.92 1148.84,218.16 1150.27,218.46 1151.7,217.84 1153.13,217.61 1154.56,218.11 1155.99,218.44 1157.42,217.63 1158.85,217.74 1160.28,217.8 1161.71,217.31 1163.14,216.56 1164.58,216.92 1166.01,217.13 1167.44,216.8 1168.87,217.15 1170.3,217.5 1171.73,217.76 1173.17,217.94 1174.6,218.01 1176.03,217.73 1177.46,217.71 1178.9,217.75 1180.33,217.55 1181.76,217.51 1183.2,217.35 1184.63,216.75 1186.06,216.29 1187.5,215.8 1188.93,215.75 1190.36,215.73 1191.8,216.21 1193.23,216.48 1194.66,216.65 1196.1,216.45 1197.53,216.5 1198.97,216.37 1200.4,216.35 1201.83,216.38 1203.27,216.83 1204.7,216.66 1206.14,216.69 1207.57,216.65 1209.01,216.5 1210.44,216.11 1211.88,216.55 1213.31,216.15 1214.75,216.13 1216.18,216.15 1217.62,216.24 1219.05,215.89 1220.49,216.02 1221.92,215.85 1223.36,216.36 1224.79,216.8 1226.23,216.84 1227.66,217.08 1229.1,217.32 1230.53,216.81 1231.97,216.93 1233.4,216.99 1234.84,217.05 1236.27,216.64 1237.7,216.5 1239.14,215.86 1240.57,215.73 1242.01,215.87 1243.44,216.07 1244.88,216.59 1246.31,216.78 1247.75,216.75 1249.18,216.6 1250.62,216.64 1252.05,216.08 1253.49,216.26 1254.92,216.83 1256.36,216.81 1257.79,216.69 1259.23,216.98 1260.66,216.75 1262.09,216.49 1263.53,216.39 1264.96,216.73 1266.4,217.04 1267.83,217.74 1269.26,217.61 1270.7,217.44 1272.13,217.96 1273.56,218.12 1275,217.82 1276.43,218.32 1277.86,218.7 1279.3,218.34 1280.73,218.51 1282.16,218.64 1283.6,218.68 1285.03,219.13 1286.46,219.36 1287.89,219.27 1289.33,219.6 1290.76,220.03 1292.19,220.36 1293.62,220.27 1295.05,220.65 1296.48,220.23 1297.92,219.73 1299.35,219.67 1300.78,220.17 1302.21,220.47 1303.64,220.68 1305.07,221.44 1306.5,221.39 1307.93,221.45 1309.36,221.53" fill="none" stroke="#0c7c0c" stroke-width="3" stroke-linejoin="round" stroke-linecap="round" />
<polyline points="850.56,492.76 850.77,491.17 850.98,489.59 851.19,488.02 851.39,486.43 851.59,484.86 851.79,483.29 851.99,481.71 852.19,480.13 852.39,478.55 852.58,476.97 852.77,475.4 852.96,473.83 853.15,472.26 853.34,470.69 853.53,469.11 853.71,467.54 853.9,465.97 854.08,464.41 854.26,462.83 854.44,461.26 854.62,459.68 854.8,458.11 854.97,456.54 855.15,454.98 855.32,453.41 855.5,451.85 855.67,450.27 855.84,448.71 856.02,447.14 856.19,445.57 856.36,444.01 856.53,442.44 856.7,440.88 856.86,439.32 857.03,437.75 857.2,436.19 857.37,434.63 857.53,433.06 857.7,431.5 857.87,429.94 858.03,428.38 858.2,426.82 858.36,425.26 858.53,423.7 858.7,422.14 858.86,420.58 859.03,419.02 859.19,417.46 859.36,415.9 859.53,414.34 859.69,412.78 859.86,411.22 860.03,409.67 860.19,408.11 860.36,406.56 860.53,405 860.7,403.44 860.87,401.89 861.04,400.33 861.21,398.77 861.38,397.2 861.55,395.65 861.73,394.09 861.9,392.54 862.08,390.98 862.25,389.43 862.43,387.87 862.61,386.31 862.79,384.76 862.97,383.21 863.15,381.66 863.33,380.11 863.51,378.56 863.7,377 863.89,375.45 864.07,373.91 864.26,372.36 864.45,370.79 864.65,369.24 864.84,367.68 865.04,366.13 865.23,364.57 865.43,363.02 865.63,361.46 865.84,359.91 866.04,358.35 866.25,356.81 866.45,355.26 866.67,353.72 866.88,352.17 867.09,350.62 867.31,349.07 867.53,347.52 867.75,345.95 867.97,344.4 868.2,342.85 868.43,341.29 868.66,339.73 868.89,338.19 869.12,336.66 869.36,335.1 869.6,333.55 869.85,332.01 870.09,330.45 870.34,328.89 870.59,327.34 870.85,325.79 871.1,324.22 871.36,322.68 871.63,321.13 871.89,319.57 872.16,317.99 872.43,316.45 872.71,314.88 872.99,313.32 873.27,311.76 873.55,310.22 873.84,308.68 874.13,307.13 874.43,305.59 874.73,304.03 875.03,302.49 875.34,300.94 875.64,299.38 875.96,297.81 876.27,296.26 876.59,294.7 876.92,293.13 877.25,291.58 877.58,290.03 877.92,288.49 878.25,286.95 878.6,285.4 878.95,283.85 879.3,282.3 879.66,280.74 880.02,279.17 880.38,277.61 880.75,276.03 881.12,274.44 881.5,272.88 881.88,271.32 882.27,269.77 882.66,268.21 883.06,266.67 883.46,265.12 883.86,263.56 884.27,261.99 884.69,260.43 885.11,258.86 885.53,257.31 885.96,255.77 886.4,254.2 886.84,252.65 887.29,251.11 887.75,249.59 888.21,247.98 888.68,246.46 889.16,244.94 889.65,243.41 890.14,241.86 890.65,240.36 891.16,238.85 891.68,237.32 892.21,235.77 892.76,234.25 893.31,232.77 893.87,231.23 894.45,229.75 895.03,228.25 895.63,226.75 896.24,225.25 896.86,223.84 897.49,222.42 898.14,221.09 898.8,219.61 899.47,218.16 900.16,216.58 900.86,215.15 901.58,213.61 902.31,212.32 903.05,210.99 903.81,209.69 904.59,208.39 905.38,207.12 906.19,205.84 907.02,204.71 907.86,203.58 908.72,202.21 909.6,200.93 910.49,199.85 911.41,198.55 912.34,197.35 913.29,196.32 914.26,195.26 915.25,193.87 916.26,192.71 917.29,191.51 918.33,190.17 919.4,189.3 920.48,188.26 921.58,187.12 922.7,186.24 923.83,185.62 924.98,184.2 926.15,183.18 927.34,182.66 928.54,181.74 929.75,180.81 930.98,180.32 932.23,179.53 933.49,178.39 934.77,177.74 936.05,176.83 937.36,175.84 938.67,175.21 940,174.52 941.35,173.24 942.7,172.92 944.07,172.21 945.45,171.76 946.84,171.19 948.24,170.61 949.65,169.91 951.08,169.28 952.51,168.12 953.95,167.43 955.41,166.59 956.87,165.79 958.34,165.13 959.83,164.74 961.31,164.04 962.81,164.17 964.32,163.69 965.83,163.63 967.35,163.61 968.87,163.45 970.4,162.89 971.94,162.47 973.48,161.63 975.03,160.73 976.58,160.45 978.13,159.86 979.69,158.97 981.25,158.72 982.82,158.55 984.39,158.38 985.96,158.08 987.53,157.99 989.11,157.78 990.69,157.36 992.26,156.76 993.84,156.51 995.42,156.47 997,156.02 998.57,155.99 1000.15,155.71 1001.73,155.68 1003.3,155.25 1004.88,154.76 1006.45,154.25 1008.02,153.9 1009.6,153.75 1011.17,153.82 1012.74,153.88 1014.31,153.61 1015.88,153.12 1017.45,152.59 1019.02,152.15 1020.59,151.8 1022.16,151.3 1023.73,151.6 1025.3,151.14 1026.86,151.24 1028.43,151.38 1030,151.77 1031.56,151.02 1033.13,151.15 1034.69,150.19 1036.25,149.59 1037.82,148.62 1039.38,148.42 1040.94,147.92 1042.51,148.26 1044.07,148.38 1045.63,148.43 1047.19,148.32 1048.75,147.99 1050.31,147.27 1051.87,146.37 1053.43,146.19 1054.99,146.18 1056.55,146.01 1058.11,146.16 1059.67,146.1 1061.23,145.71 1062.79,145.23 1064.34,145.41 1065.9,144.99 1067.46,145.25 1069.02,145.2 1070.57,144.86 1072.13,143.96 1073.69,143.77 1075.24,143.16 1076.8,143.26 1078.35,143.43 1079.91,143.31 1081.46,143.43 1083.02,143.59 1084.57,142.48 1086.13,141.92 1087.68,142.18 1089.24,141.39 1090.79,140.9 1092.35,141.52 1093.9,141.64 1095.46,141.49 1097.01,141.83 1098.57,141.6 1100.12,141.86 1101.68,141.73 1103.23,141.95 1104.78,141.55 1106.34,141.71 1107.89,141.04 1109.45,140.69 1111,140.07 1112.56,140.02 1114.11,139.9 1115.66,139.72 1117.22,139.59 1118.77,139.46 1120.33,139.57 1121.88,139.23 1123.44,139.13 1124.99,138.98 1126.55,138.23 1128.1,137.5 1129.66,137.11 1131.22,136.47 1132.77,136.13 1134.33,136.02 1135.88,136.15 1137.44,136.09 1139,136.57 1140.55,136.67 1142.11,136.64 1143.67,136.38 1145.23,136.39 1146.78,135.79 1148.34,135.48 1149.9,135.4 1151.46,135.15 1153.02,135.08 1154.58,135.04 1156.14,135.29 1157.7,134.93 1159.26,134.8 1160.82,134.54 1162.38,134.86 1163.94,134.73 1165.5,135.32 1167.07,135.65 1168.63,136.03 1170.19,135.74 1171.76,135.33 1173.32,135.11 1174.89,134.62 1176.45,134.1 1178.02,133.95 1179.58,133.82 1181.15,133.73 1182.72,133.74 1184.28,133.42 1185.85,132.92 1187.42,133.16 1188.99,133.09 1190.56,133.35 1192.13,133.6 1193.7,133.91 1195.27,133.77 1196.84,133.66 1198.42,133.76 1199.99,134.01 1201.56,134.09 1203.14,133.77 1204.71,133.71 1206.29,133.43 1207.87,133.46 1209.44,133.36 1211.02,133.62 1212.6,133.89 1214.18,133.88 1215.76,133.59 1217.34,133.36 1218.92,133.69 1220.5,133.59 1222.08,133.47 1223.66,133.53 1225.24,133.53 1226.83,132.88 1228.41,132.51 1229.99,132.78 1231.57,132.55 1233.16,132.95 1234.74,133.14 1236.32,133.2 1237.9,133.04 1239.49,133.25 1241.07,133.13 1242.65,133.9 1244.23,134.46 1245.81,134.54 1247.39,135.01 1248.97,135.18 1250.55,135.15 1252.13,134.81 1253.71,135.3 1255.29,134.93 1256.87,134.92 1258.45,134.77 1260.02,134.98 1261.6,134.42 1263.17,134.68 1264.75,134.88 1266.32,134.54 1267.89,135.13 1269.47,135.42 1271.04,135.46 1272.61,135.58 1274.17,136.08 1275.74,136.19 1277.31,135.97 1278.87,136.22 1280.44,136.58 1282,136.72 1283.56,136.55 1285.12,136.89 1286.68,137.06 1288.23,136.83 1289.79,136.89 1291.34,136.75 1292.89,137.03 1294.44,137 1295.99,136.85 1297.54,137.15 1299.08,137.43 1300.63,137.78" fill="none" stroke="#0a14c8" stroke-width="3" stroke-linejoin="round" stroke-linecap="round" />
<polyline points="853.25,492.82 853.55,491.11 853.84,489.41 854.13,487.7 854.42,485.99 854.7,484.29 854.98,482.6 855.25,480.9 855.52,479.19 855.79,477.5 856.05,475.81 856.31,474.12 856.56,472.41 856.81,470.72 857.06,469.02 857.3,467.33 857.54,465.63 857.78,463.93 858.01,462.23 858.24,460.53 858.47,458.83 858.7,457.15 858.92,455.46 859.14,453.77 859.35,452.09 859.57,450.39 859.78,448.7 859.98,447.01 860.19,445.32 860.39,443.63 860.59,441.93 860.79,440.24 860.98,438.55 861.17,436.86 861.37,435.17 861.55,433.48 861.74,431.8 861.92,430.12 862.1,428.43 862.28,426.75 862.46,425.07 862.64,423.39 862.81,421.7 862.99,420.02 863.16,418.34 863.33,416.65 863.49,414.97 863.66,413.29 863.82,411.6 863.99,409.92 864.15,408.24 864.31,406.56 864.47,404.88 864.63,403.2 864.79,401.51 864.94,399.83 865.1,398.15 865.25,396.48 865.41,394.8 865.56,393.12 865.71,391.44 865.87,389.77 866.02,388.09 866.17,386.41 866.32,384.74 866.47,383.06 866.62,381.38 866.77,379.71 866.92,378.03 867.07,376.35 867.22,374.68 867.37,373.01 867.52,371.33 867.67,369.66 867.81,367.99 867.96,366.31 868.11,364.64 868.27,362.96 868.42,361.29 868.57,359.62 868.72,357.94 868.87,356.26 869.03,354.59 869.18,352.92 869.33,351.25 869.49,349.58 869.65,347.91 869.8,346.24 869.96,344.56 870.12,342.89 870.28,341.22 870.45,339.54 870.61,337.87 870.77,336.2 870.94,334.53 871.11,332.86 871.28,331.19 871.45,329.51 871.62,327.84 871.79,326.17 871.97,324.5 872.15,322.83 872.33,321.16 872.51,319.48 872.69,317.8 872.88,316.13 873.06,314.46 873.25,312.79 873.45,311.12 873.64,309.45 873.84,307.78 874.04,306.1 874.24,304.44 874.44,302.77 874.65,301.1 874.86,299.43 875.07,297.76 875.29,296.08 875.51,294.41 875.73,292.75 875.95,291.07 876.18,289.4 876.41,287.73 876.65,286.06 876.88,284.38 877.12,282.72 877.37,281.05 877.61,279.38 877.86,277.7 878.12,276.03 878.38,274.34 878.64,272.67 878.9,270.99 879.17,269.33 879.44,267.65 879.72,265.99 880,264.31 880.29,262.64 880.58,260.96 880.87,259.28 881.17,257.6 881.47,255.92 881.77,254.24 882.08,252.55 882.4,250.87 882.72,249.21 883.04,247.54 883.37,245.86 883.7,244.2 884.04,242.54 884.38,240.84 884.73,239.19 885.09,237.54 885.44,235.84 885.81,234.18 886.17,232.51 886.55,230.83 886.93,229.13 887.31,227.48 887.7,225.8 888.09,224.08 888.5,222.4 888.9,220.75 889.31,219.03 889.73,217.33 890.15,215.69 890.58,213.99 891.02,212.28 891.46,210.62 891.91,208.95 892.36,207.27 892.82,205.59 893.29,203.89 893.76,202.21 894.24,200.5 894.73,198.83 895.23,197.14 895.73,195.56 896.25,193.89 896.77,192.29 897.3,190.63 897.83,188.99 898.38,187.3 898.94,185.66 899.5,184.04 900.08,182.4 900.66,180.82 901.25,179.15 901.86,177.51 902.47,175.85 903.09,174.2 903.73,172.61 904.37,171.08 905.03,169.53 905.69,168 906.37,166.47 907.06,164.8 907.76,163.13 908.47,161.5 909.2,159.87 909.93,158.26 910.68,156.8 911.44,155.46 912.22,154.09 913,152.53 913.8,151.12 914.62,149.54 915.44,148.07 916.28,146.66 917.14,145.32 918.01,143.96 918.89,142.67 919.79,141.29 920.7,139.78 921.62,138.36 922.56,137.07 923.52,135.76 924.49,134.42 925.48,133.2 926.48,132.07 927.5,130.77 928.53,129.41 929.59,128.3 930.65,127.19 931.74,125.88 932.84,124.64 933.96,123.45 935.09,121.94 936.24,120.53 937.41,119.25 938.6,118.06 939.81,117.09 941.03,116.18 942.27,115.07 943.52,114.2 944.79,113.18 946.08,111.97 947.38,111.16 948.7,110.25 950.03,109.48 951.38,108.38 952.74,107.69 954.12,106.5 955.51,105.96 956.91,105.02 958.33,104.34 959.76,103.59 961.2,103.15 962.66,102.44 964.12,101.89 965.6,101.23 967.09,100.8 968.59,99.74 970.11,98.76 971.63,97.5 973.16,96.86 974.71,95.49 976.26,95 977.82,94.05 979.39,94.16 980.97,93.8 982.56,93.88 984.16,93.57 985.76,93.46 987.38,92.66 989,92.04 990.63,90.8 992.26,89.82 993.9,89.24 995.55,88.9 997.2,88.11 998.86,88.16 1000.53,87.88 1002.2,87.75 1003.87,87.32 1005.55,87.03 1007.24,86.36 1008.93,86.48 1010.62,86.21 1012.32,85.7 1014.01,85.8 1015.72,85.77 1017.42,85.23 1019.13,84.6 1020.84,84.43 1022.55,84.34 1024.26,84.38 1025.98,84.29 1027.69,84.15 1029.41,83.98 1031.13,83.23 1032.85,82.57 1034.56,82.05 1036.28,81.52 1038,81.09 1039.71,80.54 1041.43,80.75 1043.14,80.68 1044.85,80.77 1046.56,80.32 1048.27,80.35 1049.98,79.64 1051.69,78.83 1053.4,78.43 1055.1,78.16 1056.81,78.27 1058.51,78.46 1060.22,78.97 1061.92,78.53 1063.62,78.21 1065.32,78.14 1067.02,77.8 1068.72,77.49 1070.42,77.76 1072.11,77.94 1073.81,77.9 1075.51,77.72 1077.2,77.44 1078.9,76.85 1080.59,76.63 1082.28,76.26 1083.97,76 1085.66,75.86 1087.35,75.87 1089.04,75.82 1090.73,75.18 1092.42,74.83 1094.11,74.69 1095.8,74.96 1097.48,74.54 1099.17,74.45 1100.86,74.27 1102.54,73.81 1104.23,73.24 1105.91,73.36 1107.59,73.34 1109.28,73.23 1110.96,73.22 1112.64,72.64 1114.32,72.24 1116,72.47 1117.68,72.08 1119.36,71.69 1121.04,72.02 1122.72,72.15 1124.4,71.48 1126.08,71.33 1127.76,71.7 1129.44,70.94 1131.12,70.36 1132.79,70.1 1134.47,69.67 1136.15,69.49 1137.82,70.39 1139.5,70.11 1141.18,70.07 1142.85,70.44 1144.53,70.16 1146.21,69.53 1147.88,69.91 1149.56,70.01 1151.23,69.92 1152.91,69.66 1154.58,69.93 1156.26,69.73 1157.93,69.66 1159.61,69.58 1161.28,69.64 1162.96,69.59 1164.63,69.47 1166.31,69.11 1167.98,68.84 1169.66,68.82 1171.33,68.15 1173.01,68.15 1174.68,68.79 1176.36,68.93 1178.03,69.03 1179.71,69.13 1181.39,68.92 1183.06,68.37 1184.74,68.04 1186.41,66.95 1188.09,66.86 1189.77,66.63 1191.44,66.47 1193.12,67.08 1194.8,67.74 1196.48,67.32 1198.16,67.53 1199.83,66.99 1201.51,65.94 1203.19,66.24 1204.87,66.32 1206.55,65.64 1208.23,65.99 1209.91,66.41 1211.59,65.96 1213.27,66.09 1214.96,66.52 1216.64,66.7 1218.32,66.66 1220,66.33 1221.69,66.41 1223.37,66.28 1225.06,66.3 1226.74,66.31 1228.43,66.41 1230.12,66.19 1231.8,66.44 1233.49,66.39 1235.18,66.28 1236.87,65.76 1238.56,66.02 1240.25,65.67 1241.94,65.55 1243.63,65.45 1245.32,66.07 1247.02,65.8 1248.71,65.77 1250.4,65.28 1252.1,65.39 1253.8,65.32 1255.49,64.97 1257.19,64.56 1258.89,64.94 1260.59,65.48 1262.29,65.24 1263.99,65.57 1265.69,65.89 1267.4,65.52 1269.1,65.35 1270.81,65.15 1272.51,65.27 1274.22,65.36 1275.93,65.82 1277.63,65.84 1279.34,66.29 1281.06,66.16 1282.77,66.62 1284.48,66.41 1286.19,65.59 1287.91,65.89 1289.63,65.86 1291.34,65.66 1293.06,66.3 1294.78,67 1296.5,66.77 1298.22,67.14 1299.95,66.01" fill="none" stroke="#3c3c3c" stroke-width="3" stroke-linejoin="round" stroke-linecap="round" />
<rect x="771.2" y="15.1" width="537.8" height="477.6" fill="none" stroke="#000" stroke-width="3"/>
<line x1="853.9" y1="492.7" x2="853.9" y2="500.9" stroke="#000" stroke-width="3" />
<line x1="1019.2" y1="492.7" x2="1019.2" y2="500.9" stroke="#000" stroke-width="3" />
<line x1="1184.5" y1="492.7" x2="1184.5" y2="500.9" stroke="#000" stroke-width="3" />
<line x1="771.25" y1="492.7" x2="771.25" y2="497.2" stroke="#000" stroke-width="3" />
<line x1="936.55" y1="492.7" x2="936.55" y2="497.2" stroke="#000" stroke-width="3" />
<line x1="1101.85" y1="492.7" x2="1101.85" y2="497.2" stroke="#000" stroke-width="3" />
<line x1="1267.15" y1="492.7" x2="1267.15" y2="497.2" stroke="#000" stroke-width="3" />
<line x1="771.2" y1="492.7" x2="763" y2="492.7" stroke="#000" stroke-width="3" />
<line x1="771.2" y1="373.3" x2="763" y2="373.3" stroke="#000" stroke-width="3" />
<line x1="771.2" y1="253.9" x2="763" y2="253.9" stroke="#000" stroke-width="3" />
<line x1="771.2" y1="134.5" x2="763" y2="134.5" stroke="#000" stroke-width="3" />
<line x1="771.2" y1="15.1" x2="763" y2="15.1" stroke="#000" stroke-width="3" />
<line x1="771.2" y1="433" x2="766.7" y2="433" stroke="#000" stroke-width="3" />
<line x1="771.2" y1="313.6" x2="766.7" y2="313.6" stroke="#000" stroke-width="3" />
<line x1="771.2" y1="194.2" x2="766.7" y2="194.2" stroke="#000" stroke-width="3" />
<line x1="771.2" y1="74.8" x2="766.7" y2="74.8" stroke="#000" stroke-width="3" />
<text font-size="28.4" text-anchor="middle" fill="#000" transform="translate(853.9 529.7) scale(1.0600 1)">0.0</text>
<text font-size="28.4" text-anchor="middle" fill="#000" transform="translate(1019.2 529.7) scale(1.0600 1)">0.1</text>
<text font-size="28.4" text-anchor="middle" fill="#000" transform="translate(1184.5 529.7) scale(1.0600 1)">0.2</text>
<text x="757.8" y="503.3" font-size="31" text-anchor="end" fill="#000">0</text>
<text x="757.8" y="383.9" font-size="31" text-anchor="end" fill="#000">1</text>
<text x="757.8" y="264.5" font-size="31" text-anchor="end" fill="#000">2</text>
<text x="757.8" y="145.1" font-size="31" text-anchor="end" fill="#000">3</text>
<text x="757.8" y="25.7" font-size="31" text-anchor="end" fill="#000">4</text>
<text x="1052.5" y="110.5" font-size="30.5" font-weight="bold" text-anchor="start" fill="#000">2500 rpm</text>
<text x="1052.5" y="179.2" font-size="30.5" font-weight="bold" text-anchor="start" fill="#000">1600 rpm</text>
<text x="1052.5" y="259.7" font-size="30.5" font-weight="bold" text-anchor="start" fill="#000">900 rpm</text>
<text x="1052.5" y="341" font-size="30.5" font-weight="bold" text-anchor="start" fill="#000">400 rpm</text>
<text x="1040.7" y="584.6" font-size="36.7" font-weight="bold" text-anchor="middle" fill="#000">Potential vs. RHE (V)</text>
<text x="715.9" y="255.7" font-size="37" font-weight="bold" text-anchor="middle" transform="rotate(-90 715.9 255.7)">J (mA cm<tspan font-size="24" dy="-14">-2</tspan><tspan dy="14">)</tspan></text>
<text x="685" y="57" font-size="60" font-weight="bold" text-anchor="start" fill="#000">b</text>
<polyline points="1486,132.5 1496.07,134.63 1510.48,137.67 1526.85,141.2 1542.8,144.8 1558.45,148.49 1574.81,152.44 1590.86,156.5 1605.6,160.5 1618.85,164.43 1631.12,168.36 1642.4,172.28 1652.7,176.2 1661.82,180.03 1669.82,183.8 1677.09,187.67 1684,191.8 1690.59,196.22 1696.67,200.85 1702.32,205.68 1707.6,210.7 1712.48,215.91 1716.94,221.31 1721.06,226.91 1724.9,232.7 1728.47,238.76 1731.74,245.06 1734.71,251.45 1737.4,257.8 1739.8,264 1741.9,270.16 1743.73,276.41 1745.3,282.9 1746.58,289.72 1747.57,296.76 1748.35,303.93 1749,311.1 1749.49,317.55 1749.8,323.56 1750.01,330.57 1750.2,340 1750.39,352.06 1750.53,366.06 1750.63,382.02 1750.7,400 1750.74,422.91 1750.73,449.75 1750.71,474.72 1750.7,492" fill="none" stroke="#0c7c0c" stroke-width="3" stroke-linejoin="round" stroke-linecap="round" />
<polyline points="1750.7,400 1750.77,388.28 1750.87,371.25 1751.01,353.59 1751.2,340 1751.44,332.19 1751.73,327.5 1752.07,324.06 1752.5,320 1753.03,314.88 1753.64,309.69 1754.31,304.65 1755,300 1755.58,296.17 1756.11,292.92 1756.84,289.46 1758,285 1759.69,279.26 1761.76,272.68 1764.12,265.58 1766.7,258.3 1769.3,250.78 1772.02,242.89 1775.21,234.86 1779.2,226.9 1784.14,218.86 1789.82,210.71 1796.09,202.79 1802.8,195.5 1809.73,188.96 1817.03,182.97 1825.06,177.37 1834.2,172 1844.87,166.88 1856.77,162.06 1869.16,157.49 1881.3,153.1 1893.08,148.88 1904.86,144.85 1916.63,141.02 1928.4,137.4 1940.3,133.98 1952.29,130.76 1964.09,127.73 1975.4,124.9 1986.99,122.11 1998.74,119.42 2009.01,117.12 2016.2,115.5" fill="none" stroke="#0c7c0c" stroke-width="3" stroke-linejoin="round" stroke-linecap="round" />
<polyline points="1488.6,111.5 1498.14,113.46 1511.77,116.27 1527.37,119.51 1542.8,122.8 1558.26,126.16 1574.64,129.77 1590.8,133.41 1605.6,136.9 1618.85,140.16 1631.12,143.3 1642.4,146.39 1652.7,149.5 1661.82,152.52 1669.82,155.46 1677.09,158.54 1684,162 1690.59,165.88 1696.67,170.06 1702.32,174.53 1707.6,179.3 1712.52,184.4 1717.04,189.81 1721.17,195.47 1724.9,201.3 1728.15,207.32 1730.94,213.56 1733.44,219.94 1735.8,226.4 1738.06,232.96 1740.14,239.66 1742.02,246.39 1743.7,253.1 1745.17,259.44 1746.43,265.55 1747.5,272.09 1748.4,279.7 1749.08,289.17 1749.56,299.95 1749.91,310.68 1750.2,320 1750.41,328.5 1750.51,336.58 1750.58,342.62 1750.7,345 1750.87,342.38 1751.06,335.94 1751.3,327.77 1751.6,320 1752,312.73 1752.47,305 1752.98,297.27 1753.5,290 1753.93,283.39 1754.33,277.16 1754.85,271.1 1755.7,265 1756.91,258.93 1758.4,252.96 1760.11,246.86 1762,240.4 1763.98,233.48 1766.11,226.22 1768.53,218.76 1771.4,211.2 1774.7,203.39 1778.37,195.34 1782.48,187.37 1787.1,179.8 1792.06,172.79 1797.37,166.16 1803.43,159.66 1810.6,153.1 1819.13,146.28 1828.78,139.36 1839.16,132.63 1849.9,126.4 1861.13,120.71 1872.97,115.41 1885.05,110.51 1897,106 1908.17,102.05 1918.93,98.61 1930.48,95.33 1944,91.9 1961.97,87.88 1983.04,83.57 2002.64,79.7 2016.2,77" fill="none" stroke="#2832ff" stroke-width="3" stroke-linejoin="round" stroke-linecap="round" />
<polyline points="1498.8,87.5 1506.27,88.25 1516.88,89.31 1529.45,90.64 1542.8,92.2 1557.55,93.98 1574.01,96.01 1590.56,98.28 1605.6,100.8 1618.85,103.67 1631.12,106.86 1642.4,110.16 1652.7,113.4 1661.82,116.46 1669.82,119.46 1677.09,122.55 1684,125.9 1690.63,129.53 1696.77,133.35 1702.44,137.38 1707.6,141.6 1712.19,146.03 1716.24,150.66 1719.89,155.49 1723.3,160.5 1726.46,165.65 1729.29,170.96 1731.89,176.52 1734.3,182.4 1736.55,188.7 1738.59,195.35 1740.44,202.2 1742.1,209.1 1743.53,215.92 1744.74,222.76 1745.8,229.85 1746.8,237.4 1747.76,245.74 1748.65,254.66 1749.41,263.58 1750,271.9 1750.35,280.27 1750.51,288.73 1750.58,295.8 1750.7,300 1750.83,300.14 1750.93,297.27 1751.08,293.27 1751.4,290 1751.92,288.74 1752.59,288.22 1753.34,286.54 1754.1,281.8 1754.79,272.57 1755.48,260.19 1756.28,246.83 1757.3,234.7 1758.6,224.09 1760.11,213.92 1761.76,204.34 1763.5,195.5 1765.17,187.72 1766.86,180.82 1768.84,174.21 1771.4,167.3 1774.59,159.79 1778.28,152.06 1782.44,144.46 1787.1,137.4 1792.06,131.11 1797.37,125.35 1803.43,119.74 1810.6,113.9 1819.13,107.66 1828.78,101.26 1839.16,94.89 1849.9,88.8 1861.13,83.04 1872.97,77.51 1885.05,72.11 1897,66.8 1908.17,61.68 1918.93,56.74 1930.48,51.74 1944,46.4 1961.97,40.03 1983.04,32.98 2002.64,26.56 2016.2,22.1" fill="none" stroke="#fa1487" stroke-width="3" stroke-linejoin="round" stroke-linecap="round" />
<rect x="1485.2" y="15.1" width="531.8" height="477" fill="none" stroke="#000" stroke-width="3"/>
<line x1="1484.6" y1="492.1" x2="1484.6" y2="502.1" stroke="#000" stroke-width="3" />
<line x1="1617.5" y1="492.1" x2="1617.5" y2="502.1" stroke="#000" stroke-width="3" />
<line x1="1750.4" y1="492.1" x2="1750.4" y2="502.1" stroke="#000" stroke-width="3" />
<line x1="1883.3" y1="492.1" x2="1883.3" y2="502.1" stroke="#000" stroke-width="3" />
<line x1="2016.2" y1="492.1" x2="2016.2" y2="502.1" stroke="#000" stroke-width="3" />
<line x1="1551.05" y1="492.1" x2="1551.05" y2="497.1" stroke="#000" stroke-width="3" />
<line x1="1683.95" y1="492.1" x2="1683.95" y2="497.1" stroke="#000" stroke-width="3" />
<line x1="1816.85" y1="492.1" x2="1816.85" y2="497.1" stroke="#000" stroke-width="3" />
<line x1="1949.75" y1="492.1" x2="1949.75" y2="497.1" stroke="#000" stroke-width="3" />
<line x1="1485.2" y1="74.7" x2="1475.2" y2="74.7" stroke="#000" stroke-width="3" />
<line x1="1485.2" y1="179" x2="1475.2" y2="179" stroke="#000" stroke-width="3" />
<line x1="1485.2" y1="283.3" x2="1475.2" y2="283.3" stroke="#000" stroke-width="3" />
<line x1="1485.2" y1="387.6" x2="1475.2" y2="387.6" stroke="#000" stroke-width="3" />
<line x1="1485.2" y1="491.9" x2="1475.2" y2="491.9" stroke="#000" stroke-width="3" />
<line x1="1485.2" y1="460.5" x2="1480.2" y2="460.5" stroke="#000" stroke-width="3" />
<line x1="1485.2" y1="442.14" x2="1480.2" y2="442.14" stroke="#000" stroke-width="3" />
<line x1="1485.2" y1="429.11" x2="1480.2" y2="429.11" stroke="#000" stroke-width="3" />
<line x1="1485.2" y1="419" x2="1480.2" y2="419" stroke="#000" stroke-width="3" />
<line x1="1485.2" y1="410.74" x2="1480.2" y2="410.74" stroke="#000" stroke-width="3" />
<line x1="1485.2" y1="403.76" x2="1480.2" y2="403.76" stroke="#000" stroke-width="3" />
<line x1="1485.2" y1="397.71" x2="1480.2" y2="397.71" stroke="#000" stroke-width="3" />
<line x1="1485.2" y1="392.37" x2="1480.2" y2="392.37" stroke="#000" stroke-width="3" />
<line x1="1485.2" y1="356.2" x2="1480.2" y2="356.2" stroke="#000" stroke-width="3" />
<line x1="1485.2" y1="337.84" x2="1480.2" y2="337.84" stroke="#000" stroke-width="3" />
<line x1="1485.2" y1="324.81" x2="1480.2" y2="324.81" stroke="#000" stroke-width="3" />
<line x1="1485.2" y1="314.7" x2="1480.2" y2="314.7" stroke="#000" stroke-width="3" />
<line x1="1485.2" y1="306.44" x2="1480.2" y2="306.44" stroke="#000" stroke-width="3" />
<line x1="1485.2" y1="299.46" x2="1480.2" y2="299.46" stroke="#000" stroke-width="3" />
<line x1="1485.2" y1="293.41" x2="1480.2" y2="293.41" stroke="#000" stroke-width="3" />
<line x1="1485.2" y1="288.07" x2="1480.2" y2="288.07" stroke="#000" stroke-width="3" />
<line x1="1485.2" y1="251.9" x2="1480.2" y2="251.9" stroke="#000" stroke-width="3" />
<line x1="1485.2" y1="233.54" x2="1480.2" y2="233.54" stroke="#000" stroke-width="3" />
<line x1="1485.2" y1="220.51" x2="1480.2" y2="220.51" stroke="#000" stroke-width="3" />
<line x1="1485.2" y1="210.4" x2="1480.2" y2="210.4" stroke="#000" stroke-width="3" />
<line x1="1485.2" y1="202.14" x2="1480.2" y2="202.14" stroke="#000" stroke-width="3" />
<line x1="1485.2" y1="195.16" x2="1480.2" y2="195.16" stroke="#000" stroke-width="3" />
<line x1="1485.2" y1="189.11" x2="1480.2" y2="189.11" stroke="#000" stroke-width="3" />
<line x1="1485.2" y1="183.77" x2="1480.2" y2="183.77" stroke="#000" stroke-width="3" />
<line x1="1485.2" y1="147.6" x2="1480.2" y2="147.6" stroke="#000" stroke-width="3" />
<line x1="1485.2" y1="129.24" x2="1480.2" y2="129.24" stroke="#000" stroke-width="3" />
<line x1="1485.2" y1="116.21" x2="1480.2" y2="116.21" stroke="#000" stroke-width="3" />
<line x1="1485.2" y1="106.1" x2="1480.2" y2="106.1" stroke="#000" stroke-width="3" />
<line x1="1485.2" y1="97.84" x2="1480.2" y2="97.84" stroke="#000" stroke-width="3" />
<line x1="1485.2" y1="90.86" x2="1480.2" y2="90.86" stroke="#000" stroke-width="3" />
<line x1="1485.2" y1="84.81" x2="1480.2" y2="84.81" stroke="#000" stroke-width="3" />
<line x1="1485.2" y1="79.47" x2="1480.2" y2="79.47" stroke="#000" stroke-width="3" />
<line x1="1485.2" y1="43.3" x2="1480.2" y2="43.3" stroke="#000" stroke-width="3" />
<line x1="1485.2" y1="24.94" x2="1480.2" y2="24.94" stroke="#000" stroke-width="3" />
<text font-size="27.4" text-anchor="middle" fill="#000" transform="translate(1484.6 531.3) scale(1.1100 1)">-0.02</text>
<text font-size="27.4" text-anchor="middle" fill="#000" transform="translate(1617.5 531.3) scale(1.1100 1)">-0.01</text>
<text font-size="27.4" text-anchor="middle" fill="#000" transform="translate(1750.4 531.3) scale(1.1100 1)">0.00</text>
<text font-size="27.4" text-anchor="middle" fill="#000" transform="translate(1883.3 531.3) scale(1.1100 1)">0.01</text>
<text font-size="27.4" text-anchor="middle" fill="#000" transform="translate(2016.2 531.3) scale(1.1100 1)">0.02</text>
<text font-size="29.5" text-anchor="end" fill="#000" transform="translate(1468 83.7) scale(1.0400 1)">1</text>
<text font-size="29.5" text-anchor="end" fill="#000" transform="translate(1468 188) scale(1.0400 1)">0.1</text>
<text font-size="29.5" text-anchor="end" fill="#000" transform="translate(1468 292.3) scale(1.0400 1)">0.01</text>
<text font-size="29.5" text-anchor="end" fill="#000" transform="translate(1468 396.6) scale(1.0400 1)">0.001</text>
<text font-size="29.5" text-anchor="end" fill="#000" transform="translate(1468 500.9) scale(1.0400 1)">1E-4</text>
<line x1="1773.3" y1="360.8" x2="1811" y2="360.8" stroke="#fa1487" stroke-width="3" />
<text x="1819.5" y="368.4" font-size="31" font-weight="bold" text-anchor="start" fill="#000">RhMo NSs/C</text>
<line x1="1773.3" y1="400.1" x2="1811" y2="400.1" stroke="#0c7c0c" stroke-width="3" />
<text x="1819.5" y="407.7" font-size="31" font-weight="bold" text-anchor="start" fill="#000">Rh/C</text>
<line x1="1773.3" y1="439.4" x2="1811" y2="439.4" stroke="#2832ff" stroke-width="3" />
<text x="1819.5" y="447" font-size="31" font-weight="bold" text-anchor="start" fill="#000">Pt/C</text>
<text x="1751" y="586.2" font-size="36.7" font-weight="bold" text-anchor="middle" fill="#000">Potential vs. RHE (V)</text>
<text x="1386.4" y="250.5" font-size="37.8" font-weight="bold" text-anchor="middle" fill="#000" transform="rotate(-90 1386.4 250.5)">i (mA)</text>
<text x="1356" y="51" font-size="60" font-weight="bold" text-anchor="start" fill="#000">c</text>
<rect x="139" y="687.8" width="45.4" height="414.2" fill="url(#gPink)"/>
<rect x="197.4" y="1091" width="46.1" height="11" fill="#0c7a0c"/>
<rect x="255.4" y="1082.5" width="45.1" height="19.5" fill="url(#gBlue)"/>
<rect x="367.4" y="706.9" width="46.1" height="395.1" fill="url(#gPink)"/>
<rect x="425.1" y="1066.1" width="45.4" height="35.9" fill="url(#gGreenD)"/>
<rect x="482.5" y="1045.6" width="45.7" height="56.4" fill="url(#gBlue)"/>
<line x1="338.2" y1="665.5" x2="338.2" y2="1095.2" stroke="#fb0c80" stroke-width="3.5" stroke-dasharray="18 16.3"/>
<rect x="103" y="624.9" width="460.3" height="477.1" fill="none" stroke="#000" stroke-width="3"/>
<line x1="103" y1="1102" x2="94.5" y2="1102" stroke="#000" stroke-width="3" />
<line x1="103" y1="982.72" x2="94.5" y2="982.72" stroke="#000" stroke-width="3" />
<line x1="103" y1="863.44" x2="94.5" y2="863.44" stroke="#000" stroke-width="3" />
<line x1="103" y1="744.16" x2="94.5" y2="744.16" stroke="#000" stroke-width="3" />
<line x1="103" y1="624.88" x2="94.5" y2="624.88" stroke="#000" stroke-width="3" />
<line x1="103" y1="1042.36" x2="98" y2="1042.36" stroke="#000" stroke-width="3" />
<line x1="103" y1="923.08" x2="98" y2="923.08" stroke="#000" stroke-width="3" />
<line x1="103" y1="803.8" x2="98" y2="803.8" stroke="#000" stroke-width="3" />
<line x1="103" y1="684.52" x2="98" y2="684.52" stroke="#000" stroke-width="3" />
<line x1="563.3" y1="1102" x2="571.8" y2="1102" stroke="#000" stroke-width="3" />
<line x1="563.3" y1="996" x2="571.8" y2="996" stroke="#000" stroke-width="3" />
<line x1="563.3" y1="890" x2="571.8" y2="890" stroke="#000" stroke-width="3" />
<line x1="563.3" y1="784" x2="571.8" y2="784" stroke="#000" stroke-width="3" />
<line x1="563.3" y1="678" x2="571.8" y2="678" stroke="#000" stroke-width="3" />
<line x1="563.3" y1="1049" x2="568.3" y2="1049" stroke="#000" stroke-width="3" />
<line x1="563.3" y1="943" x2="568.3" y2="943" stroke="#000" stroke-width="3" />
<line x1="563.3" y1="837" x2="568.3" y2="837" stroke="#000" stroke-width="3" />
<line x1="563.3" y1="731" x2="568.3" y2="731" stroke="#000" stroke-width="3" />
<line x1="563.3" y1="625" x2="568.3" y2="625" stroke="#000" stroke-width="3" />
<text x="90.5" y="1112" font-size="31" text-anchor="end" fill="#000">0</text>
<text x="90.5" y="992.72" font-size="31" text-anchor="end" fill="#000">2</text>
<text x="90.5" y="873.44" font-size="31" text-anchor="end" fill="#000">4</text>
<text x="90.5" y="754.16" font-size="31" text-anchor="end" fill="#000">6</text>
<text x="90.5" y="634.88" font-size="31" text-anchor="end" fill="#000">8</text>
<text x="576.8" y="1112" font-size="31" text-anchor="start" fill="#000">0</text>
<text x="576.8" y="1006" font-size="31" text-anchor="start" fill="#000">1</text>
<text x="576.8" y="900" font-size="31" text-anchor="start" fill="#000">2</text>
<text x="576.8" y="794" font-size="31" text-anchor="start" fill="#000">3</text>
<text x="576.8" y="688" font-size="31" text-anchor="start" fill="#000">4</text>
<text x="170.7" y="1054.1" font-size="31" font-weight="bold" text-anchor="start" fill="#000" transform="rotate(-90 170.7 1054.1)">RhMo NSs/C</text>
<text x="232.2" y="1074.6" font-size="31" font-weight="bold" text-anchor="start" fill="#000" transform="rotate(-90 232.2 1074.6)">Rh/C</text>
<text x="292" y="1072.9" font-size="31" font-weight="bold" text-anchor="start" fill="#000" transform="rotate(-90 292 1072.9)">Pt/C</text>
<text x="401.2" y="1045.6" font-size="31" font-weight="bold" text-anchor="start" fill="#000" transform="rotate(-90 401.2 1045.6)">RhMo NSs/C</text>
<text x="459.3" y="1055.8" font-size="31" font-weight="bold" text-anchor="start" fill="#000" transform="rotate(-90 459.3 1055.8)">Rh/C</text>
<text x="519" y="1040.5" font-size="31" font-weight="bold" text-anchor="start" fill="#000" transform="rotate(-90 519 1040.5)">Pt/C</text>
<text x="38.6" y="886.9" font-size="38" font-weight="bold" text-anchor="middle" transform="rotate(-90 38.6 886.9)">Mass activity (A mg<tspan font-size="25" dy="8">PGM</tspan><tspan font-size="25" dy="-22">-1</tspan><tspan dy="14">)</tspan></text>
<text x="646" y="863.8" font-size="37.3" font-weight="bold" text-anchor="middle" transform="rotate(-90 646 863.8)">Specific activity (A cm<tspan font-size="25" dy="-14">-2</tspan><tspan dy="14">)</tspan></text>
<text x="8.5" y="647.6" font-size="60" font-weight="bold" text-anchor="start" fill="#000">d</text>
<rect x="838.3" y="687.9" width="50.8" height="413.6" fill="url(#gPink)"/>
<rect x="899" y="908.5" width="50.4" height="193" fill="url(#gRh2Sb)"/>
<rect x="959.7" y="1059.4" width="51.1" height="42.1" fill="url(#gRhC)"/>
<rect x="1020" y="1061.7" width="51.5" height="39.8" fill="url(#gPRh)"/>
<rect x="1082.1" y="1083.6" width="50.8" height="17.9" fill="url(#gPtRh)"/>
<rect x="1203.2" y="884.3" width="50.1" height="217.2" fill="url(#gPt6)"/>
<rect x="1264.6" y="931" width="50.7" height="170.5" fill="#c0ef7c"/>
<rect x="1325.3" y="948.3" width="50.4" height="153.2" fill="url(#gPtNiO)"/>
<rect x="1385.9" y="971.5" width="50.4" height="130" fill="#e9e071"/>
<rect x="1446.3" y="989.1" width="51.4" height="112.4" fill="#f1a86a"/>
<rect x="1507.7" y="1003.7" width="50.3" height="97.8" fill="url(#gPt25)"/>
<rect x="1568.4" y="1061.1" width="51" height="40.4" fill="url(#gPt08)"/>
<rect x="1629.4" y="1063.4" width="50.7" height="38.1" fill="url(#gPtCu)"/>
<rect x="1689.4" y="1073.7" width="51.1" height="27.8" fill="#45f2c2"/>
<rect x="1750.8" y="1078.6" width="51.1" height="22.9" fill="url(#gPtMo)"/>
<rect x="1811.8" y="1081" width="50.8" height="20.5" fill="#8ff2d6"/>
<rect x="1872.5" y="1082.6" width="50.8" height="18.9" fill="#9ef7d6"/>
<rect x="1933.2" y="1083.6" width="51.1" height="17.9" fill="#7373f5"/>
<rect x="803.5" y="624.9" width="1215.7" height="476.6" fill="none" stroke="#000" stroke-width="3"/>
<path d="M807.4 1098.5 L807.4 678 L1146.7 678 L1146.7 1098.5 Z" fill="none" stroke="#d4079c" stroke-width="5" stroke-dasharray="18 12"/>
<path d="M1166.3 1098.5 L1166.3 769.5 L1989.2 769.5 L1989.2 1098.5 Z" fill="none" stroke="#77a03c" stroke-width="5" stroke-dasharray="19 16"/>
<line x1="803.5" y1="1101.5" x2="795" y2="1101.5" stroke="#000" stroke-width="3" />
<line x1="803.5" y1="982.3" x2="795" y2="982.3" stroke="#000" stroke-width="3" />
<line x1="803.5" y1="863.1" x2="795" y2="863.1" stroke="#000" stroke-width="3" />
<line x1="803.5" y1="743.9" x2="795" y2="743.9" stroke="#000" stroke-width="3" />
<line x1="803.5" y1="624.7" x2="795" y2="624.7" stroke="#000" stroke-width="3" />
<line x1="803.5" y1="1041.9" x2="798.5" y2="1041.9" stroke="#000" stroke-width="3" />
<line x1="803.5" y1="922.7" x2="798.5" y2="922.7" stroke="#000" stroke-width="3" />
<line x1="803.5" y1="803.5" x2="798.5" y2="803.5" stroke="#000" stroke-width="3" />
<line x1="803.5" y1="684.3" x2="798.5" y2="684.3" stroke="#000" stroke-width="3" />
<text x="790.5" y="1111.5" font-size="31" text-anchor="end" fill="#000">0</text>
<text x="790.5" y="992.3" font-size="31" text-anchor="end" fill="#000">2</text>
<text x="790.5" y="873.1" font-size="31" text-anchor="end" fill="#000">4</text>
<text x="790.5" y="753.9" font-size="31" text-anchor="end" fill="#000">6</text>
<text x="790.5" y="634.7" font-size="31" text-anchor="end" fill="#000">8</text>
<text x="874" y="1034.5" font-size="30.5" font-weight="bold" transform="rotate(-90 874 1034.5)">RhMo NSs/C</text>
<text x="938.2" y="1036.2" font-size="30.5" font-weight="bold" transform="rotate(-90 938.2 1036.2)">Rh<tspan font-size="20" dy="7">2</tspan><tspan dy="-7">Sb NBs</tspan></text>
<text x="1000.2" y="1046.1" font-size="30.5" font-weight="bold" transform="rotate(-90 1000.2 1046.1)">Rh/C</text>
<text x="1053.3" y="1047.8" font-size="30.5" font-weight="bold" transform="rotate(-90 1053.3 1047.8)">P-Rh/C</text>
<text x="1114.6" y="1074.3" font-size="30.5" font-weight="bold" transform="rotate(-90 1114.6 1074.3)">PtRh/C</text>
<text x="1237.4" y="1027.9" font-size="30.5" font-weight="bold" transform="rotate(-90 1237.4 1027.9)">Pt<tspan font-size="20" dy="7">6</tspan><tspan dy="-7">NCs-C</tspan></text>
<text x="1295.4" y="1052.8" font-size="30.5" font-weight="bold" transform="rotate(-90 1295.4 1052.8)">Ru<tspan font-size="20" dy="7">0.96</tspan><tspan dy="-7">Pt</tspan><tspan font-size="20" dy="7">0.04</tspan><tspan dy="-7"> NTs</tspan></text>
<text x="1358.4" y="1037.9" font-size="30.5" font-weight="bold" transform="rotate(-90 1358.4 1037.9)">PtNiO-300</text>
<text x="1422.4" y="958.2" font-size="30.5" font-weight="bold" transform="rotate(-90 1422.4 958.2)">PtRu NWs</text>
<text x="1487.8" y="979.8" font-size="30.5" font-weight="bold" transform="rotate(-90 1487.8 979.8)">Pt<tspan font-size="20" dy="7">0.1</tspan><tspan dy="-7">Ru</tspan><tspan font-size="20" dy="7">0.9</tspan></text>
<text x="1550.8" y="989.8" font-size="30.5" font-weight="bold" transform="rotate(-90 1550.8 989.8)">Pt<tspan font-size="20" dy="7">0.25</tspan><tspan dy="-7">Ru</tspan><tspan font-size="20" dy="7">0.75</tspan><tspan dy="-7">-N-C</tspan></text>
<text x="1608.8" y="1051.1" font-size="30.5" font-weight="bold" transform="rotate(-90 1608.8 1051.1)">Pt<tspan font-size="20" dy="7">0.8</tspan><tspan dy="-7">Ru</tspan><tspan font-size="20" dy="7">0.2</tspan><tspan dy="-7">/C</tspan></text>
<text x="1668.5" y="1051.1" font-size="30.5" font-weight="bold" transform="rotate(-90 1668.5 1051.1)">Pt/Cu NWs</text>
<text x="1727.6" y="1056.1" font-size="30.5" font-weight="bold" transform="rotate(-90 1727.6 1056.1)">Acid-PtNi/C</text>
<text x="1788" y="1067.7" font-size="30.5" font-weight="bold" transform="rotate(-90 1788 1067.7)">PtRu/Mo<tspan font-size="20" dy="7">2</tspan><tspan dy="-7">C-TaC</tspan></text>
<text x="1849.3" y="1069.4" font-size="30.5" font-weight="bold" transform="rotate(-90 1849.3 1069.4)">PtNb/NbO<tspan font-size="20" dy="7">x</tspan><tspan dy="-7">-C</tspan></text>
<text x="1909" y="1076" font-size="30.5" font-weight="bold" transform="rotate(-90 1909 1076)">PtRh</text>
<text x="1972" y="1072.7" font-size="30.5" font-weight="bold" transform="rotate(-90 1972 1072.7)">Pt/p-CNT</text>
<text x="976.2" y="664.7" font-size="39.5" font-weight="bold" text-anchor="middle" fill="#000">Rh-based</text>
<text x="1568.5" y="755.8" font-size="39.5" font-weight="bold" text-anchor="middle" fill="#000">Pt-based</text>
<text x="744.5" y="883.8" font-size="37" font-weight="bold" text-anchor="middle" transform="rotate(-90 744.5 883.8)">Mass activity (A mg<tspan font-size="23" dy="8">PGM</tspan><tspan font-size="20" dx="-52.4" dy="-26">-1</tspan><tspan dx="37.6" dy="18">)</tspan></text>
<text x="717" y="650.5" font-size="60" font-weight="bold" text-anchor="start" fill="#000">e</text>
<polyline points="108,1262 108.48,1266.7 109.19,1273.41 110,1280 110.93,1286.04 111.96,1291.96 113,1297 114,1300.7 115,1303.52 116,1306 117.03,1308.28 118.06,1310.22 119,1312 119.79,1313.49 120.49,1314.8 121.2,1316.5 121.91,1318.93 122.64,1321.74 123.5,1324.4 124.54,1326.78 125.72,1329.01 127,1331 128.37,1332.59 129.84,1333.93 131.4,1335.4 132.86,1336.98 134.41,1338.69 136.6,1341 139.89,1344.45 143.81,1348.5 147.6,1352 150.97,1354.37 154.2,1356.19 157.3,1358 159.93,1359.81 162.44,1361.63 165.9,1364 171.24,1367.48 177.53,1371.52 183,1375 186.73,1377.41 189.64,1379.26 192.7,1381 196.23,1382.7 199.9,1384.3 203.7,1386 207.41,1387.83 211.25,1389.76 215.9,1392 222.18,1394.93 229.27,1398.16 235.4,1400.7 239.71,1401.91 243.07,1402.43 246.3,1403.2 249.65,1404.67 252.87,1406.4 256.1,1408 259.14,1409.27 262.19,1410.42 265.9,1411.7 270.9,1413.24 276.57,1414.92 281.7,1416.6 285.72,1418.32 289.21,1420.04 292.7,1421.5 296.41,1422.47 300.13,1423.17 303.7,1424 306.77,1425.05 309.7,1426.23 313.4,1427.6 318.61,1429.31 324.59,1431.21 330,1433 334.28,1434.58 337.99,1436.04 341.5,1437.3 344.86,1438.25 348.03,1439 351.2,1439.8 354.06,1440.64 356.92,1441.52 361,1442.7 367.5,1444.47 375.2,1446.53 381.7,1448.3 385.78,1449.47 388.64,1450.35 391.5,1451.2 394.74,1452.11 397.96,1452.99 401.2,1453.9 404.14,1454.73 407.1,1455.59 411,1456.8 416.79,1458.76 423.52,1461.07 429.3,1462.9 433.12,1463.74 435.99,1464.09 439,1464.6 442.61,1465.54 446.37,1466.64 450,1467.8 453,1468.86 455.86,1469.98 459.8,1471.5 465.94,1473.76 473.17,1476.41 479.3,1478.8 483.26,1480.66 486.12,1482.25 489,1483.7 492.26,1484.95 495.54,1486.05 498.8,1487.3 501.68,1488.59 504.54,1490.03 508.5,1492.2 514.61,1495.72 521.82,1499.97 528,1503.7 532.15,1506.31 535.28,1508.41 538.3,1510.5 541.46,1512.73 544.51,1514.96 547.6,1517.3 550.44,1519.44 553.33,1521.69 557.3,1525.1 563.41,1530.65 570.6,1537.36 576.8,1543.4 581.36,1548.37 584.91,1552.66 587.3,1555.6" fill="none" stroke="#fb0c80" stroke-width="2.6" stroke-linejoin="round" stroke-linecap="round" />
<circle cx="136.6" cy="1341" r="4.9" fill="#fff" stroke="#fb0c80" stroke-width="2.2"/>
<circle cx="147.6" cy="1352" r="4.9" fill="#fff" stroke="#fb0c80" stroke-width="2.2"/>
<circle cx="157.3" cy="1358" r="4.9" fill="#fff" stroke="#fb0c80" stroke-width="2.2"/>
<circle cx="165.9" cy="1364" r="4.9" fill="#fff" stroke="#fb0c80" stroke-width="2.2"/>
<circle cx="183" cy="1375" r="4.9" fill="#fff" stroke="#fb0c80" stroke-width="2.2"/>
<circle cx="192.7" cy="1381" r="4.9" fill="#fff" stroke="#fb0c80" stroke-width="2.2"/>
<circle cx="203.7" cy="1386" r="4.9" fill="#fff" stroke="#fb0c80" stroke-width="2.2"/>
<circle cx="215.9" cy="1392" r="4.9" fill="#fff" stroke="#fb0c80" stroke-width="2.2"/>
<circle cx="235.4" cy="1400.7" r="4.9" fill="#fff" stroke="#fb0c80" stroke-width="2.2"/>
<circle cx="246.3" cy="1403.2" r="4.9" fill="#fff" stroke="#fb0c80" stroke-width="2.2"/>
<circle cx="256.1" cy="1408" r="4.9" fill="#fff" stroke="#fb0c80" stroke-width="2.2"/>
<circle cx="265.9" cy="1411.7" r="4.9" fill="#fff" stroke="#fb0c80" stroke-width="2.2"/>
<circle cx="281.7" cy="1416.6" r="4.9" fill="#fff" stroke="#fb0c80" stroke-width="2.2"/>
<circle cx="292.7" cy="1421.5" r="4.9" fill="#fff" stroke="#fb0c80" stroke-width="2.2"/>
<circle cx="303.7" cy="1424" r="4.9" fill="#fff" stroke="#fb0c80" stroke-width="2.2"/>
<circle cx="313.4" cy="1427.6" r="4.9" fill="#fff" stroke="#fb0c80" stroke-width="2.2"/>
<circle cx="330" cy="1433" r="4.9" fill="#fff" stroke="#fb0c80" stroke-width="2.2"/>
<circle cx="341.5" cy="1437.3" r="4.9" fill="#fff" stroke="#fb0c80" stroke-width="2.2"/>
<circle cx="351.2" cy="1439.8" r="4.9" fill="#fff" stroke="#fb0c80" stroke-width="2.2"/>
<circle cx="361" cy="1442.7" r="4.9" fill="#fff" stroke="#fb0c80" stroke-width="2.2"/>
<circle cx="381.7" cy="1448.3" r="4.9" fill="#fff" stroke="#fb0c80" stroke-width="2.2"/>
<circle cx="391.5" cy="1451.2" r="4.9" fill="#fff" stroke="#fb0c80" stroke-width="2.2"/>
<circle cx="401.2" cy="1453.9" r="4.9" fill="#fff" stroke="#fb0c80" stroke-width="2.2"/>
<circle cx="411" cy="1456.8" r="4.9" fill="#fff" stroke="#fb0c80" stroke-width="2.2"/>
<circle cx="429.3" cy="1462.9" r="4.9" fill="#fff" stroke="#fb0c80" stroke-width="2.2"/>
<circle cx="439" cy="1464.6" r="4.9" fill="#fff" stroke="#fb0c80" stroke-width="2.2"/>
<circle cx="450" cy="1467.8" r="4.9" fill="#fff" stroke="#fb0c80" stroke-width="2.2"/>
<circle cx="459.8" cy="1471.5" r="4.9" fill="#fff" stroke="#fb0c80" stroke-width="2.2"/>
<circle cx="479.3" cy="1478.8" r="4.9" fill="#fff" stroke="#fb0c80" stroke-width="2.2"/>
<circle cx="489" cy="1483.7" r="4.9" fill="#fff" stroke="#fb0c80" stroke-width="2.2"/>
<circle cx="498.8" cy="1487.3" r="4.9" fill="#fff" stroke="#fb0c80" stroke-width="2.2"/>
<circle cx="508.5" cy="1492.2" r="4.9" fill="#fff" stroke="#fb0c80" stroke-width="2.2"/>
<circle cx="528" cy="1503.7" r="4.9" fill="#fff" stroke="#fb0c80" stroke-width="2.2"/>
<circle cx="538.3" cy="1510.5" r="4.9" fill="#fff" stroke="#fb0c80" stroke-width="2.2"/>
<circle cx="547.6" cy="1517.3" r="4.9" fill="#fff" stroke="#fb0c80" stroke-width="2.2"/>
<circle cx="557.3" cy="1525.1" r="4.9" fill="#fff" stroke="#fb0c80" stroke-width="2.2"/>
<circle cx="576.8" cy="1543.4" r="4.9" fill="#fff" stroke="#fb0c80" stroke-width="2.2"/>
<circle cx="587.3" cy="1555.6" r="4.9" fill="#fff" stroke="#fb0c80" stroke-width="2.2"/>
<polyline points="108,1265 108.53,1265.75 109.27,1266.83 110,1268 110.57,1268.91 111.11,1269.92 111.8,1271.8 112.74,1274.97 113.82,1279.03 114.9,1283.5 115.96,1288.37 117.02,1293.66 118,1299 118.88,1304.31 119.69,1309.68 120.4,1315 121,1320.57 121.5,1326.1 122,1330.6 122.36,1333.19 122.71,1334.76 123.5,1337 124.46,1340.64 125.87,1344.95 129,1349.5 135.04,1354.43 142.8,1359.6 150,1364.1 155.73,1367.46 160.89,1370.15 165.9,1372.7 170.86,1375.19 175.68,1377.53 180.5,1380 185.54,1382.83 190.59,1385.8 195.1,1388.5 198.36,1390.57 201.09,1392.38 204.9,1394.6 210.86,1397.64 217.9,1401.09 224.4,1404.4 229.63,1407.33 234.31,1410.11 239,1412.9 243.9,1415.67 248.8,1418.46 253.7,1421.5 258.71,1425 263.7,1428.76 268.3,1432.4 271.96,1435.39 275.23,1438.26 279.3,1442.2 284.95,1448.07 291.41,1455.02 297.6,1461.7 303.14,1467.53 308.4,1473.1 313.4,1478.8 318,1484.81 322.33,1490.96 326.8,1497.1 331.74,1503.38 336.83,1509.66 341.5,1515.4 345.14,1519.87 348.36,1523.79 352.4,1528.8 358.04,1535.99 364.5,1544.27 370.7,1552 376.23,1558.39 381.49,1564.21 386.6,1570.2 392.1,1577.36 397.46,1584.67 401.2,1589.8" fill="none" stroke="#000" stroke-width="2.6" stroke-linejoin="round" stroke-linecap="round" />
<circle cx="123.5" cy="1337" r="4.9" fill="#fff" stroke="#000" stroke-width="2.2"/>
<circle cx="129" cy="1349.5" r="4.9" fill="#fff" stroke="#000" stroke-width="2.2"/>
<circle cx="150" cy="1364.1" r="4.9" fill="#fff" stroke="#000" stroke-width="2.2"/>
<circle cx="165.9" cy="1372.7" r="4.9" fill="#fff" stroke="#000" stroke-width="2.2"/>
<circle cx="180.5" cy="1380" r="4.9" fill="#fff" stroke="#000" stroke-width="2.2"/>
<circle cx="195.1" cy="1388.5" r="4.9" fill="#fff" stroke="#000" stroke-width="2.2"/>
<circle cx="204.9" cy="1394.6" r="4.9" fill="#fff" stroke="#000" stroke-width="2.2"/>
<circle cx="224.4" cy="1404.4" r="4.9" fill="#fff" stroke="#000" stroke-width="2.2"/>
<circle cx="239" cy="1412.9" r="4.9" fill="#fff" stroke="#000" stroke-width="2.2"/>
<circle cx="253.7" cy="1421.5" r="4.9" fill="#fff" stroke="#000" stroke-width="2.2"/>
<circle cx="268.3" cy="1432.4" r="4.9" fill="#fff" stroke="#000" stroke-width="2.2"/>
<circle cx="279.3" cy="1442.2" r="4.9" fill="#fff" stroke="#000" stroke-width="2.2"/>
<circle cx="297.6" cy="1461.7" r="4.9" fill="#fff" stroke="#000" stroke-width="2.2"/>
<circle cx="313.4" cy="1478.8" r="4.9" fill="#fff" stroke="#000" stroke-width="2.2"/>
<circle cx="326.8" cy="1497.1" r="4.9" fill="#fff" stroke="#000" stroke-width="2.2"/>
<circle cx="341.5" cy="1515.4" r="4.9" fill="#fff" stroke="#000" stroke-width="2.2"/>
<circle cx="352.4" cy="1528.8" r="4.9" fill="#fff" stroke="#000" stroke-width="2.2"/>
<circle cx="370.7" cy="1552" r="4.9" fill="#fff" stroke="#000" stroke-width="2.2"/>
<circle cx="386.6" cy="1570.2" r="4.9" fill="#fff" stroke="#000" stroke-width="2.2"/>
<circle cx="401.2" cy="1589.8" r="4.9" fill="#fff" stroke="#000" stroke-width="2.2"/>
<polyline points="108.7,1256 109.05,1259.65 109.54,1264.85 110,1270 110.31,1274.17 110.58,1278.28 111,1283.5 111.67,1290.73 112.48,1299.08 113.3,1307 114.01,1314.26 114.73,1321.09 115.7,1326.7 117.1,1330.49 118.76,1333.06 120.4,1335.4 121.71,1337.67 123.02,1339.7 125,1342 127.93,1344.8 131.54,1347.87 135.7,1351 140.65,1354.18 146.15,1357.42 151.4,1360.5 155.94,1363.3 160.23,1365.94 164.8,1368.6 170.01,1371.4 175.51,1374.21 180.7,1376.8 185.2,1378.96 189.39,1380.89 193.9,1383 199.09,1385.5 204.59,1388.18 209.9,1390.8 214.75,1393.29 219.41,1395.73 224.2,1398.1 229.3,1400.4 234.51,1402.63 239.6,1404.8 244.4,1406.9 249.06,1408.95 253.8,1411 258.73,1413.07 263.73,1415.14 268.7,1417.2 273.61,1419.22 278.49,1421.23 283.3,1423.3 287.99,1425.5 292.6,1427.76 297.3,1430 302.14,1432.2 307.05,1434.39 312,1436.5 316.99,1438.5 322.02,1440.44 327,1442.4 331.88,1444.39 336.71,1446.41 341.6,1448.5 346.61,1450.74 351.69,1453.06 356.7,1455.3 361.59,1457.36 366.41,1459.34 371.3,1461.4 376.31,1463.62 381.39,1465.91 386.4,1468.2 391.3,1470.44 396.15,1472.67 401,1474.9 405.87,1477.13 410.74,1479.37 415.6,1481.6 420.42,1483.82 425.23,1486.04 430.1,1488.3 435.14,1490.63 440.26,1492.99 445.2,1495.3 449.77,1497.5 454.17,1499.65 458.8,1501.9 464.01,1504.37 469.46,1506.93 474.5,1509.4 478.61,1511.59 482.33,1513.69 486.6,1516 492,1518.78 497.96,1521.78 503.7,1524.6 508.95,1526.99 513.99,1529.21 518.9,1531.6 523.66,1534.35 528.3,1537.27 533,1540.2 537.83,1543.07 542.71,1545.93 547.6,1548.8 552.5,1551.61 557.4,1554.42 562.3,1557.4 567.53,1560.92 572.75,1564.6 576.9,1567.5 579.46,1569.14 580.96,1569.99 581.9,1570.5" fill="none" stroke="#0808d0" stroke-width="2.6" stroke-linejoin="round" stroke-linecap="round" />
<rect x="104.55" y="1251.85" width="8.3" height="8.3" fill="#fff" stroke="#0808d0" stroke-width="2.2"/>
<rect x="111.55" y="1322.55" width="8.3" height="8.3" fill="#fff" stroke="#0808d0" stroke-width="2.2"/>
<rect x="131.55" y="1346.85" width="8.3" height="8.3" fill="#fff" stroke="#0808d0" stroke-width="2.2"/>
<rect x="147.25" y="1356.35" width="8.3" height="8.3" fill="#fff" stroke="#0808d0" stroke-width="2.2"/>
<rect x="160.65" y="1364.45" width="8.3" height="8.3" fill="#fff" stroke="#0808d0" stroke-width="2.2"/>
<rect x="176.55" y="1372.65" width="8.3" height="8.3" fill="#fff" stroke="#0808d0" stroke-width="2.2"/>
<rect x="189.75" y="1378.85" width="8.3" height="8.3" fill="#fff" stroke="#0808d0" stroke-width="2.2"/>
<rect x="205.75" y="1386.65" width="8.3" height="8.3" fill="#fff" stroke="#0808d0" stroke-width="2.2"/>
<rect x="220.05" y="1393.95" width="8.3" height="8.3" fill="#fff" stroke="#0808d0" stroke-width="2.2"/>
<rect x="235.45" y="1400.65" width="8.3" height="8.3" fill="#fff" stroke="#0808d0" stroke-width="2.2"/>
<rect x="249.65" y="1406.85" width="8.3" height="8.3" fill="#fff" stroke="#0808d0" stroke-width="2.2"/>
<rect x="264.55" y="1413.05" width="8.3" height="8.3" fill="#fff" stroke="#0808d0" stroke-width="2.2"/>
<rect x="279.15" y="1419.15" width="8.3" height="8.3" fill="#fff" stroke="#0808d0" stroke-width="2.2"/>
<rect x="293.15" y="1425.85" width="8.3" height="8.3" fill="#fff" stroke="#0808d0" stroke-width="2.2"/>
<rect x="307.85" y="1432.35" width="8.3" height="8.3" fill="#fff" stroke="#0808d0" stroke-width="2.2"/>
<rect x="322.85" y="1438.25" width="8.3" height="8.3" fill="#fff" stroke="#0808d0" stroke-width="2.2"/>
<rect x="337.45" y="1444.35" width="8.3" height="8.3" fill="#fff" stroke="#0808d0" stroke-width="2.2"/>
<rect x="352.55" y="1451.15" width="8.3" height="8.3" fill="#fff" stroke="#0808d0" stroke-width="2.2"/>
<rect x="367.15" y="1457.25" width="8.3" height="8.3" fill="#fff" stroke="#0808d0" stroke-width="2.2"/>
<rect x="382.25" y="1464.05" width="8.3" height="8.3" fill="#fff" stroke="#0808d0" stroke-width="2.2"/>
<rect x="396.85" y="1470.75" width="8.3" height="8.3" fill="#fff" stroke="#0808d0" stroke-width="2.2"/>
<rect x="411.45" y="1477.45" width="8.3" height="8.3" fill="#fff" stroke="#0808d0" stroke-width="2.2"/>
<rect x="425.95" y="1484.15" width="8.3" height="8.3" fill="#fff" stroke="#0808d0" stroke-width="2.2"/>
<rect x="441.05" y="1491.15" width="8.3" height="8.3" fill="#fff" stroke="#0808d0" stroke-width="2.2"/>
<rect x="454.65" y="1497.75" width="8.3" height="8.3" fill="#fff" stroke="#0808d0" stroke-width="2.2"/>
<rect x="470.35" y="1505.25" width="8.3" height="8.3" fill="#fff" stroke="#0808d0" stroke-width="2.2"/>
<rect x="482.45" y="1511.85" width="8.3" height="8.3" fill="#fff" stroke="#0808d0" stroke-width="2.2"/>
<rect x="499.55" y="1520.45" width="8.3" height="8.3" fill="#fff" stroke="#0808d0" stroke-width="2.2"/>
<rect x="514.75" y="1527.45" width="8.3" height="8.3" fill="#fff" stroke="#0808d0" stroke-width="2.2"/>
<rect x="528.85" y="1536.05" width="8.3" height="8.3" fill="#fff" stroke="#0808d0" stroke-width="2.2"/>
<rect x="543.45" y="1544.65" width="8.3" height="8.3" fill="#fff" stroke="#0808d0" stroke-width="2.2"/>
<rect x="558.15" y="1553.25" width="8.3" height="8.3" fill="#fff" stroke="#0808d0" stroke-width="2.2"/>
<rect x="572.75" y="1563.35" width="8.3" height="8.3" fill="#fff" stroke="#0808d0" stroke-width="2.2"/>
<rect x="577.75" y="1566.35" width="8.3" height="8.3" fill="#fff" stroke="#0808d0" stroke-width="2.2"/>
<polyline points="108.7,1265 109.01,1268.7 109.47,1274.07 110,1280 110.61,1286.11 111.31,1292.78 112,1300 112.67,1308.15 113.33,1316.85 114,1325 114.69,1332.41 115.37,1339.26 116,1345 116.44,1349.11 116.83,1352.12 117.5,1355 118.29,1357.76 119.37,1360.39 121.6,1363.9 125.82,1369.16 131.2,1375.29 136.1,1380.7 139.47,1384.23 142.36,1387.04 146.3,1391 152.32,1397.36 159.39,1404.87 165.9,1411.7 171.14,1416.95 175.82,1421.53 180.5,1426.3 185.36,1431.63 190.23,1437.15 195.1,1442.7 200.09,1448.27 205.08,1453.87 209.8,1459.3 213.86,1464.21 217.63,1468.95 222,1474.4 227.56,1481.19 233.71,1488.68 239.5,1495.9 244.46,1502.38 249.06,1508.59 253.7,1514.9 258.54,1521.47 263.42,1528.14 268.3,1534.9 273.26,1541.84 278.21,1548.85 282.9,1555.6 287.33,1562.06 291.49,1568.25 295.1,1573.9 298.17,1579.23 300.69,1584.01 302.4,1587.3" fill="none" stroke="#c2601a" stroke-width="2.6" stroke-linejoin="round" stroke-linecap="round" />
<rect x="104.55" y="1260.85" width="8.3" height="8.3" fill="#fff" stroke="#c2601a" stroke-width="2.2"/>
<rect x="117.45" y="1359.75" width="8.3" height="8.3" fill="#fff" stroke="#c2601a" stroke-width="2.2"/>
<rect x="131.95" y="1376.55" width="8.3" height="8.3" fill="#fff" stroke="#c2601a" stroke-width="2.2"/>
<rect x="142.15" y="1386.85" width="8.3" height="8.3" fill="#fff" stroke="#c2601a" stroke-width="2.2"/>
<rect x="161.75" y="1407.55" width="8.3" height="8.3" fill="#fff" stroke="#c2601a" stroke-width="2.2"/>
<rect x="176.35" y="1422.15" width="8.3" height="8.3" fill="#fff" stroke="#c2601a" stroke-width="2.2"/>
<rect x="190.95" y="1438.55" width="8.3" height="8.3" fill="#fff" stroke="#c2601a" stroke-width="2.2"/>
<rect x="205.65" y="1455.15" width="8.3" height="8.3" fill="#fff" stroke="#c2601a" stroke-width="2.2"/>
<rect x="217.85" y="1470.25" width="8.3" height="8.3" fill="#fff" stroke="#c2601a" stroke-width="2.2"/>
<rect x="235.35" y="1491.75" width="8.3" height="8.3" fill="#fff" stroke="#c2601a" stroke-width="2.2"/>
<rect x="249.55" y="1510.75" width="8.3" height="8.3" fill="#fff" stroke="#c2601a" stroke-width="2.2"/>
<rect x="264.15" y="1530.75" width="8.3" height="8.3" fill="#fff" stroke="#c2601a" stroke-width="2.2"/>
<rect x="278.75" y="1551.45" width="8.3" height="8.3" fill="#fff" stroke="#c2601a" stroke-width="2.2"/>
<rect x="290.95" y="1569.75" width="8.3" height="8.3" fill="#fff" stroke="#c2601a" stroke-width="2.2"/>
<rect x="298.25" y="1583.15" width="8.3" height="8.3" fill="#fff" stroke="#c2601a" stroke-width="2.2"/>
<polyline points="107.1,1674.8 108,1673.06 108.48,1672.16 109.19,1670.87 110,1669.43 110.93,1667.81 111.96,1666.06 113,1664.35 114,1662.68 115,1661.03 116,1659.42 117.03,1657.73 118.06,1656.07 119,1654.57 119.79,1653.32 120.49,1652.23 121.2,1651.12 121.91,1650.09 122.64,1649.06 123.5,1647.87 124.54,1646.31 125.72,1644.58 127,1642.73 128.37,1640.66 129.84,1638.46 131.4,1636.15 132.86,1634.01 134.41,1631.78 136.6,1628.65 139.89,1624.01 143.81,1618.6 147.6,1613.53 150.97,1608.86 154.2,1604.45 157.3,1600.26 159.93,1596.81 162.44,1593.56 165.9,1589.15 171.24,1582.4 177.53,1574.67 183,1568.15 186.73,1563.77 189.64,1560.41 192.7,1556.93 196.23,1552.75 199.9,1548.45 203.7,1544.05 207.41,1539.89 211.25,1535.64 215.9,1530.59 222.18,1523.78 229.27,1516.29 235.4,1509.98 239.71,1505.06 243.07,1501.25 246.3,1497.61 249.65,1494.44 252.87,1491.44 256.1,1488.49 259.14,1485.5 262.19,1482.54 265.9,1478.99 270.9,1474.01 276.57,1468.46 281.7,1463.51 285.72,1460.15 289.21,1457.28 292.7,1454.46 296.41,1450.8 300.13,1447.17 303.7,1443.71 306.77,1441.16 309.7,1438.77 313.4,1435.79 318.61,1431.43 324.59,1426.53 330,1422.2 334.28,1419.05 337.99,1416.38 341.5,1413.89 344.86,1411.11 348.03,1408.52 351.2,1405.95 354.06,1403.78 356.92,1401.63 361,1398.61 367.5,1393.69 375.2,1387.99 381.7,1383.3 385.78,1380.55 388.64,1378.64 391.5,1376.76 394.74,1374.58 397.96,1372.44 401.2,1370.32 404.14,1368.48 407.1,1366.66 411,1364.3 416.79,1361.19 423.52,1357.7 429.3,1354.82 433.12,1352.04 435.99,1349.98 439,1347.83 442.61,1345.92 446.37,1343.97 450,1342.13 453,1341.06 455.86,1340.06 459.8,1338.74 465.94,1336.76 473.17,1334.59 479.3,1332.9 483.26,1332.78 486.12,1332.75 489,1332.76 492.26,1332 495.54,1331.27 498.8,1330.59 501.68,1330.75 504.54,1330.94 508.5,1331.28 514.61,1332.94 521.82,1335.15 528,1337.28 532.15,1339.41 535.28,1341.09 538.3,1342.76 541.46,1345.03 544.51,1347.29 547.6,1349.64 550.44,1352.29 553.33,1355.04 557.3,1358.94 563.41,1366.91 570.6,1376.72 576.8,1385.54 581.36,1394.5 584.91,1401.65 587.3,1406.53" fill="none" stroke="#fb0c80" stroke-width="2.8" stroke-linejoin="round" stroke-linecap="round" stroke-dasharray="6 4" stroke-linecap="butt"/>
<circle cx="107.1" cy="1674.8" r="5.75" fill="#fb0c80"/>
<circle cx="111" cy="1667.69" r="5.75" fill="#fb0c80"/>
<circle cx="131.7" cy="1635.71" r="5.75" fill="#fb0c80"/>
<circle cx="152.4" cy="1606.9" r="5.75" fill="#fb0c80"/>
<circle cx="172" cy="1581.46" r="5.75" fill="#fb0c80"/>
<circle cx="191.5" cy="1558.29" r="5.75" fill="#fb0c80"/>
<circle cx="212.2" cy="1534.6" r="5.75" fill="#fb0c80"/>
<circle cx="231.7" cy="1513.77" r="5.75" fill="#fb0c80"/>
<circle cx="251.2" cy="1492.99" r="5.75" fill="#fb0c80"/>
<circle cx="270.7" cy="1474.21" r="5.75" fill="#fb0c80"/>
<circle cx="290.2" cy="1456.48" r="5.75" fill="#fb0c80"/>
<circle cx="309.8" cy="1438.69" r="5.75" fill="#fb0c80"/>
<circle cx="329.3" cy="1422.75" r="5.75" fill="#fb0c80"/>
<circle cx="341" cy="1414.24" r="5.75" fill="#fb0c80"/>
<circle cx="350.5" cy="1406.52" r="5.75" fill="#fb0c80"/>
<circle cx="360.6" cy="1398.9" r="5.75" fill="#fb0c80"/>
<circle cx="379.7" cy="1384.73" r="5.75" fill="#fb0c80"/>
<circle cx="390.3" cy="1377.55" r="5.75" fill="#fb0c80"/>
<circle cx="399.9" cy="1371.17" r="5.75" fill="#fb0c80"/>
<circle cx="409.4" cy="1365.27" r="5.75" fill="#fb0c80"/>
<circle cx="429" cy="1354.96" r="5.75" fill="#fb0c80"/>
<circle cx="439.1" cy="1347.77" r="5.75" fill="#fb0c80"/>
<circle cx="449.2" cy="1342.54" r="5.75" fill="#fb0c80"/>
<circle cx="458.2" cy="1339.27" r="5.75" fill="#fb0c80"/>
<circle cx="478.5" cy="1333.11" r="5.75" fill="#fb0c80"/>
<circle cx="488.6" cy="1332.75" r="5.75" fill="#fb0c80"/>
<circle cx="497.7" cy="1330.81" r="5.75" fill="#fb0c80"/>
<circle cx="508.3" cy="1331.26" r="5.75" fill="#fb0c80"/>
<circle cx="527" cy="1336.92" r="5.75" fill="#fb0c80"/>
<circle cx="537" cy="1342.03" r="5.75" fill="#fb0c80"/>
<circle cx="547.1" cy="1349.25" r="5.75" fill="#fb0c80"/>
<circle cx="557.2" cy="1358.84" r="5.75" fill="#fb0c80"/>
<circle cx="575.9" cy="1384.24" r="5.75" fill="#fb0c80"/>
<circle cx="586.5" cy="1404.89" r="5.75" fill="#fb0c80"/>
<polyline points="107.1,1674.8 108,1673.07 108.53,1672.07 109.27,1670.64 110,1669.27 110.57,1668.21 111.11,1667.2 111.8,1665.92 112.74,1664.25 113.82,1662.35 114.9,1660.5 115.96,1658.77 117.02,1657.1 118,1655.6 118.88,1654.37 119.69,1653.3 120.4,1652.37 121,1651.75 121.5,1651.24 122,1650.76 122.36,1650.29 122.71,1649.84 123.5,1648.84 124.46,1647.49 125.87,1645.56 129,1641.41 135.04,1632.75 142.8,1621.97 150,1612.33 155.73,1604.7 160.89,1597.96 165.9,1591.55 170.86,1585.26 175.68,1579.27 180.5,1573.39 185.54,1567.5 190.59,1561.75 195.1,1556.72 198.36,1553.21 201.09,1550.32 204.9,1546.37 210.86,1539.99 217.9,1532.68 224.4,1526.15 229.63,1521.27 234.31,1517.03 239,1512.9 243.9,1508.72 248.8,1504.67 253.7,1500.76 258.71,1497.47 263.7,1494.37 268.3,1491.67 271.96,1490.03 275.23,1488.66 279.3,1487.08 284.95,1485.94 291.41,1485.02 297.6,1484.54 303.14,1484.51 308.4,1484.78 313.4,1485.29 318,1487.27 322.33,1489.39 326.8,1491.83 331.74,1494.19 336.83,1496.92 341.5,1499.69 345.14,1501.96 348.36,1504.1 352.4,1506.95 358.04,1511.5 364.5,1517.18 370.7,1523.09 376.23,1527.89 381.49,1532.76 386.6,1537.78 392.1,1544.95 397.46,1552.3 401.2,1557.64" fill="none" stroke="#000" stroke-width="2.8" stroke-linejoin="round" stroke-linecap="round" />
<circle cx="107.1" cy="1674.8" r="5.75" fill="#000"/>
<circle cx="123" cy="1649.47" r="5.75" fill="#000"/>
<circle cx="142.7" cy="1622.11" r="5.75" fill="#000"/>
<circle cx="160" cy="1599.11" r="5.75" fill="#000"/>
<circle cx="178" cy="1576.43" r="5.75" fill="#000"/>
<circle cx="200" cy="1551.47" r="5.75" fill="#000"/>
<circle cx="221" cy="1529.54" r="5.75" fill="#000"/>
<circle cx="242.7" cy="1509.73" r="5.75" fill="#000"/>
<circle cx="261" cy="1496.03" r="5.75" fill="#000"/>
<circle cx="278" cy="1487.57" r="5.75" fill="#000"/>
<circle cx="301.2" cy="1484.49" r="5.75" fill="#000"/>
<circle cx="320.7" cy="1488.57" r="5.75" fill="#000"/>
<circle cx="340.2" cy="1498.89" r="5.75" fill="#000"/>
<circle cx="361" cy="1514.04" r="5.75" fill="#000"/>
<circle cx="375.6" cy="1527.33" r="5.75" fill="#000"/>
<circle cx="401.2" cy="1557.64" r="5.75" fill="#000"/>
<polyline points="107.1,1674.8 108.7,1671.66 109.05,1671.01 109.54,1670.11 110,1669.3 110.31,1668.78 110.58,1668.32 111,1667.65 111.67,1666.57 112.48,1665.32 113.3,1664.11 114.01,1663.08 114.73,1662.07 115.7,1660.77 117.1,1658.61 118.76,1656.09 120.4,1653.64 121.71,1651.68 123.02,1649.76 125,1646.88 127.93,1642.55 131.54,1637.31 135.7,1631.4 140.65,1624.36 146.15,1616.69 151.4,1609.54 155.94,1603.48 160.23,1597.86 164.8,1592 170.01,1585.3 175.51,1578.4 180.7,1572.01 185.2,1566.5 189.39,1561.44 193.9,1556.09 199.09,1550.09 204.59,1543.86 209.9,1537.97 214.75,1532.76 219.41,1527.86 224.2,1522.94 229.3,1517.6 234.51,1512.25 239.6,1507.13 244.4,1502.41 249.06,1497.91 253.8,1493.43 258.73,1488.79 263.73,1484.18 268.7,1479.7 273.61,1475.37 278.49,1471.17 283.3,1467.11 287.99,1463.49 292.6,1460.01 297.3,1456.58 302.14,1452.99 307.05,1449.43 312,1445.96 316.99,1442.31 322.02,1438.74 327,1435.28 331.88,1432.12 336.71,1429.07 341.6,1426.09 346.61,1423.3 351.69,1420.6 356.7,1418.03 361.59,1415.43 366.41,1412.96 371.3,1410.56 376.31,1408.39 381.39,1406.31 386.4,1404.36 391.3,1402.61 396.15,1400.98 401,1399.45 405.87,1398.02 410.74,1396.69 415.6,1395.46 420.42,1394.37 425.23,1393.37 430.1,1392.47 435.14,1391.66 440.26,1390.95 445.2,1390.37 449.77,1390.08 454.17,1389.9 458.8,1389.8 464.01,1389.74 469.46,1389.81 474.5,1390 478.61,1390.71 482.33,1391.44 486.6,1392.35 492,1393.23 497.96,1394.36 503.7,1395.61 508.95,1396.47 513.99,1397.41 518.9,1398.42 523.66,1400.9 528.3,1403.43 533,1406.13 537.83,1408.82 542.71,1411.68 547.6,1414.67 552.5,1417.76 557.4,1420.99 562.3,1424.34 567.53,1429.27 572.75,1434.36 576.9,1438.54 579.46,1440.66 580.96,1441.91 581.9,1442.7" fill="none" stroke="#0000f2" stroke-width="2.8" stroke-linejoin="round" stroke-linecap="round" />
<rect x="101.35" y="1669.05" width="11.5" height="11.5" fill="#0000f2"/>
<rect x="118.65" y="1642" width="11.5" height="11.5" fill="#0000f2"/>
<rect x="137.65" y="1614.75" width="11.5" height="11.5" fill="#0000f2"/>
<rect x="156.45" y="1589.57" width="11.5" height="11.5" fill="#0000f2"/>
<rect x="177.15" y="1563.55" width="11.5" height="11.5" fill="#0000f2"/>
<rect x="196.65" y="1540.57" width="11.5" height="11.5" fill="#0000f2"/>
<rect x="216.25" y="1519.44" width="11.5" height="11.5" fill="#0000f2"/>
<rect x="235.75" y="1499.5" width="11.5" height="11.5" fill="#0000f2"/>
<rect x="256.45" y="1479.83" width="11.5" height="11.5" fill="#0000f2"/>
<rect x="275.95" y="1462.7" width="11.5" height="11.5" fill="#0000f2"/>
<rect x="295.45" y="1447.92" width="11.5" height="11.5" fill="#0000f2"/>
<rect x="314.95" y="1433.92" width="11.5" height="11.5" fill="#0000f2"/>
<rect x="334.45" y="1421.18" width="11.5" height="11.5" fill="#0000f2"/>
<rect x="354.35" y="1410.46" width="11.5" height="11.5" fill="#0000f2"/>
<rect x="374.45" y="1401.04" width="11.5" height="11.5" fill="#0000f2"/>
<rect x="394.65" y="1393.88" width="11.5" height="11.5" fill="#0000f2"/>
<rect x="413.75" y="1388.82" width="11.5" height="11.5" fill="#0000f2"/>
<rect x="433.35" y="1385.35" width="11.5" height="11.5" fill="#0000f2"/>
<rect x="452.45" y="1384.06" width="11.5" height="11.5" fill="#0000f2"/>
<rect x="473.15" y="1385.02" width="11.5" height="11.5" fill="#0000f2"/>
<rect x="492.45" y="1388.66" width="11.5" height="11.5" fill="#0000f2"/>
<rect x="512.65" y="1392.56" width="11.5" height="11.5" fill="#0000f2"/>
<rect x="531.75" y="1402.88" width="11.5" height="11.5" fill="#0000f2"/>
<rect x="551.45" y="1415.1" width="11.5" height="11.5" fill="#0000f2"/>
<rect x="571.15" y="1432.79" width="11.5" height="11.5" fill="#0000f2"/>
<rect x="576.15" y="1436.95" width="11.5" height="11.5" fill="#0000f2"/>
<polyline points="107.1,1674.8 108.7,1671.73 109.01,1671.16 109.47,1670.35 110,1669.43 110.61,1668.4 111.31,1667.27 112,1666.19 112.67,1665.24 113.33,1664.34 114,1663.49 114.69,1662.61 115.37,1661.77 116,1661.04 116.44,1660.49 116.83,1660.02 117.5,1659.21 118.29,1658.12 119.37,1656.65 121.6,1653.67 125.82,1647.95 131.2,1640.94 136.1,1634.83 139.47,1630.7 142.36,1627.24 146.3,1622.66 152.32,1616 159.39,1608.64 165.9,1602.29 171.14,1597.41 175.82,1593.26 180.5,1589.31 185.36,1585.65 190.23,1582.24 195.1,1579.07 200.09,1576.1 205.08,1573.39 209.8,1571.07 213.86,1569.49 217.63,1568.18 222,1566.88 227.56,1565.52 233.71,1564.42 239.5,1563.79 244.46,1563.9 249.06,1564.28 253.7,1564.94 258.54,1566.01 263.42,1567.41 268.3,1569.1 273.26,1571.33 278.21,1573.88 282.9,1576.59 287.33,1579.72 291.49,1582.92 295.1,1585.9 298.17,1589.49 300.69,1592.56 302.4,1594.71" fill="none" stroke="#c2601a" stroke-width="2.8" stroke-linejoin="round" stroke-linecap="round" />
<rect x="101.35" y="1669.05" width="11.5" height="11.5" fill="#c2601a"/>
<rect x="113.75" y="1650.72" width="11.5" height="11.5" fill="#c2601a"/>
<rect x="138.15" y="1619.68" width="11.5" height="11.5" fill="#c2601a"/>
<rect x="157.65" y="1598.93" width="11.5" height="11.5" fill="#c2601a"/>
<rect x="177.15" y="1581.73" width="11.5" height="11.5" fill="#c2601a"/>
<rect x="197.95" y="1568.37" width="11.5" height="11.5" fill="#c2601a"/>
<rect x="214.95" y="1561.5" width="11.5" height="11.5" fill="#c2601a"/>
<rect x="236.95" y="1558.08" width="11.5" height="11.5" fill="#c2601a"/>
<rect x="256.45" y="1561.28" width="11.5" height="11.5" fill="#c2601a"/>
<rect x="275.95" y="1570.12" width="11.5" height="11.5" fill="#c2601a"/>
<rect x="296.25" y="1588.45" width="11.5" height="11.5" fill="#c2601a"/>
<rect x="107.1" y="1197.5" width="489.7" height="477.3" fill="none" stroke="#000" stroke-width="3"/>
<line x1="107.1" y1="1674.8" x2="107.1" y2="1684.8" stroke="#000" stroke-width="3" />
<line x1="229.3" y1="1674.8" x2="229.3" y2="1684.8" stroke="#000" stroke-width="3" />
<line x1="351.5" y1="1674.8" x2="351.5" y2="1684.8" stroke="#000" stroke-width="3" />
<line x1="473.7" y1="1674.8" x2="473.7" y2="1684.8" stroke="#000" stroke-width="3" />
<line x1="595.9" y1="1674.8" x2="595.9" y2="1684.8" stroke="#000" stroke-width="3" />
<line x1="168.2" y1="1674.8" x2="168.2" y2="1680.3" stroke="#000" stroke-width="3" />
<line x1="290.4" y1="1674.8" x2="290.4" y2="1680.3" stroke="#000" stroke-width="3" />
<line x1="412.6" y1="1674.8" x2="412.6" y2="1680.3" stroke="#000" stroke-width="3" />
<line x1="534.8" y1="1674.8" x2="534.8" y2="1680.3" stroke="#000" stroke-width="3" />
<line x1="107.1" y1="1674.8" x2="97.1" y2="1674.8" stroke="#000" stroke-width="3" />
<line x1="107.1" y1="1515.7" x2="97.1" y2="1515.7" stroke="#000" stroke-width="3" />
<line x1="107.1" y1="1356.6" x2="97.1" y2="1356.6" stroke="#000" stroke-width="3" />
<line x1="107.1" y1="1197.5" x2="97.1" y2="1197.5" stroke="#000" stroke-width="3" />
<line x1="107.1" y1="1595.25" x2="101.6" y2="1595.25" stroke="#000" stroke-width="3" />
<line x1="107.1" y1="1436.15" x2="101.6" y2="1436.15" stroke="#000" stroke-width="3" />
<line x1="107.1" y1="1277.05" x2="101.6" y2="1277.05" stroke="#000" stroke-width="3" />
<line x1="596.8" y1="1674.8" x2="605.3" y2="1674.8" stroke="#000" stroke-width="3" />
<line x1="596.8" y1="1583.68" x2="605.3" y2="1583.68" stroke="#000" stroke-width="3" />
<line x1="596.8" y1="1492.56" x2="605.3" y2="1492.56" stroke="#000" stroke-width="3" />
<line x1="596.8" y1="1401.44" x2="605.3" y2="1401.44" stroke="#000" stroke-width="3" />
<line x1="596.8" y1="1310.32" x2="605.3" y2="1310.32" stroke="#000" stroke-width="3" />
<line x1="596.8" y1="1219.2" x2="605.3" y2="1219.2" stroke="#000" stroke-width="3" />
<line x1="596.8" y1="1629.24" x2="602.3" y2="1629.24" stroke="#000" stroke-width="3" />
<line x1="596.8" y1="1538.12" x2="602.3" y2="1538.12" stroke="#000" stroke-width="3" />
<line x1="596.8" y1="1447" x2="602.3" y2="1447" stroke="#000" stroke-width="3" />
<line x1="596.8" y1="1355.88" x2="602.3" y2="1355.88" stroke="#000" stroke-width="3" />
<line x1="596.8" y1="1264.76" x2="602.3" y2="1264.76" stroke="#000" stroke-width="3" />
<text x="107.1" y="1715.3" font-size="31" text-anchor="middle" fill="#000">0</text>
<text x="229.3" y="1715.3" font-size="31" text-anchor="middle" fill="#000">1</text>
<text x="351.5" y="1715.3" font-size="31" text-anchor="middle" fill="#000">2</text>
<text x="473.7" y="1715.3" font-size="31" text-anchor="middle" fill="#000">3</text>
<text x="595.9" y="1715.3" font-size="31" text-anchor="middle" fill="#000">4</text>
<text font-size="30.5" text-anchor="end" fill="#000" transform="translate(91.3 1683.4) scale(0.9850 1)">0.0</text>
<text font-size="30.5" text-anchor="end" fill="#000" transform="translate(91.3 1524.3) scale(0.9850 1)">0.4</text>
<text font-size="30.5" text-anchor="end" fill="#000" transform="translate(91.3 1365.2) scale(0.9850 1)">0.8</text>
<text font-size="30.5" text-anchor="end" fill="#000" transform="translate(91.3 1206.1) scale(0.9850 1)">1.2</text>
<text x="610.5" y="1684.8" font-size="31" text-anchor="start" fill="#000">0.0</text>
<text x="610.5" y="1593.68" font-size="31" text-anchor="start" fill="#000">0.4</text>
<text x="610.5" y="1502.56" font-size="31" text-anchor="start" fill="#000">0.8</text>
<text x="610.5" y="1411.44" font-size="31" text-anchor="start" fill="#000">1.2</text>
<text x="610.5" y="1320.32" font-size="31" text-anchor="start" fill="#000">1.6</text>
<text x="610.5" y="1229.2" font-size="31" text-anchor="start" fill="#000">2.0</text>
<line x1="171.5" y1="1213.7" x2="233.8" y2="1213.7" stroke="#fb0c80" stroke-width="2.6" />
<line x1="241.5" y1="1213.7" x2="285" y2="1213.7" stroke="#fb0c80" stroke-width="2.6" />
<circle cx="201.9" cy="1213.7" r="4.4" fill="#fff" stroke="#fb0c80" stroke-width="2.2"/>
<circle cx="262.6" cy="1213.7" r="5.75" fill="#fb0c80"/>
<text font-size="23.8" font-weight="bold" transform="translate(289.5 1220.7) scale(0.93 1)">RhMo NSs/C H<tspan font-size="15.5" dy="5">2</tspan><tspan dy="-5">-O</tspan><tspan font-size="15.5" dy="5">2</tspan></text>
<line x1="171.5" y1="1247.7" x2="233.8" y2="1247.7" stroke="#000" stroke-width="2.6" />
<line x1="241.5" y1="1247.7" x2="285" y2="1247.7" stroke="#000" stroke-width="2.6" />
<circle cx="201.9" cy="1247.7" r="4.4" fill="#fff" stroke="#000" stroke-width="2.2"/>
<circle cx="262.6" cy="1247.7" r="5.75" fill="#000"/>
<text font-size="23.8" font-weight="bold" transform="translate(289.5 1254.7) scale(0.93 1)">RhMo NSs/C H<tspan font-size="15.5" dy="5">2</tspan><tspan dy="-5">-Air</tspan></text>
<line x1="171.5" y1="1281.2" x2="233.8" y2="1281.2" stroke="#0808d0" stroke-width="2.6" />
<line x1="241.5" y1="1281.2" x2="285" y2="1281.2" stroke="#0000f2" stroke-width="2.6" />
<rect x="198.25" y="1277.55" width="7.3" height="7.3" fill="#fff" stroke="#0808d0" stroke-width="2.2"/>
<rect x="256.85" y="1275.45" width="11.5" height="11.5" fill="#0000f2"/>
<text font-size="23.8" font-weight="bold" transform="translate(289.5 1288.2) scale(0.93 1)">20% Pt/C H<tspan font-size="15.5" dy="5">2</tspan><tspan dy="-5">-O</tspan><tspan font-size="15.5" dy="5">2</tspan></text>
<line x1="171.5" y1="1314.4" x2="233.8" y2="1314.4" stroke="#c2601a" stroke-width="2.6" />
<line x1="241.5" y1="1314.4" x2="285" y2="1314.4" stroke="#c2601a" stroke-width="2.6" />
<rect x="198.25" y="1310.75" width="7.3" height="7.3" fill="#fff" stroke="#c2601a" stroke-width="2.2"/>
<rect x="256.85" y="1308.65" width="11.5" height="11.5" fill="#c2601a"/>
<text font-size="23.8" font-weight="bold" transform="translate(289.5 1321.4) scale(0.93 1)">20% Pt/C H<tspan font-size="15.5" dy="5">2</tspan><tspan dy="-5">-Air</tspan></text>
<text x="352" y="1772.3" font-size="37" font-weight="bold" text-anchor="middle">Current density (A cm<tspan font-size="24" dy="-14">-2</tspan><tspan dy="14">)</tspan></text>
<text x="34.2" y="1437" font-size="36.7" font-weight="bold" text-anchor="middle" fill="#000" transform="rotate(-90 34.2 1437)">Cell voltage (V)</text>
<text x="698.3" y="1435.7" font-size="36.8" font-weight="bold" text-anchor="middle" transform="rotate(-90 698.3 1435.7)">Power density (W cm<tspan font-size="24" dy="-14">-2</tspan><tspan dy="14">)</tspan></text>
<text x="12" y="1229.7" font-size="60" font-weight="bold" text-anchor="start" fill="#000">f</text>
<rect x="885.9" y="1272.2" width="60.4" height="401.9" fill="#ff0a8c" stroke="#b00060" stroke-width="1"/>
<rect x="959.9" y="1343.1" width="60.5" height="331" fill="url(#gPtO2r)" stroke="#0a8a20" stroke-width="1"/>
<rect x="1109.5" y="1271.5" width="60.6" height="402.6" fill="url(#gRhAir)" stroke="#900050" stroke-width="1"/>
<rect x="1184.6" y="1442.5" width="61.2" height="231.6" fill="url(#gPtO2r)" stroke="#0a8a20" stroke-width="1"/>
<line x1="1066.1" y1="1205.1" x2="1066.1" y2="1669" stroke="#e8101e" stroke-width="3.3" stroke-dasharray="17.9 16.4"/>
<rect x="841.5" y="1197.3" width="447.8" height="476.8" fill="none" stroke="#000" stroke-width="3"/>
<line x1="841.5" y1="1674.1" x2="832.1" y2="1674.1" stroke="#000" stroke-width="3" />
<line x1="841.5" y1="1568.06" x2="832.1" y2="1568.06" stroke="#000" stroke-width="3" />
<line x1="841.5" y1="1462.02" x2="832.1" y2="1462.02" stroke="#000" stroke-width="3" />
<line x1="841.5" y1="1355.98" x2="832.1" y2="1355.98" stroke="#000" stroke-width="3" />
<line x1="841.5" y1="1249.94" x2="832.1" y2="1249.94" stroke="#000" stroke-width="3" />
<line x1="841.5" y1="1621.08" x2="836.8" y2="1621.08" stroke="#000" stroke-width="3" />
<line x1="841.5" y1="1515.04" x2="836.8" y2="1515.04" stroke="#000" stroke-width="3" />
<line x1="841.5" y1="1409" x2="836.8" y2="1409" stroke="#000" stroke-width="3" />
<line x1="841.5" y1="1302.96" x2="836.8" y2="1302.96" stroke="#000" stroke-width="3" />
<line x1="1289.3" y1="1674.1" x2="1298.7" y2="1674.1" stroke="#000" stroke-width="3" />
<line x1="1289.3" y1="1578.64" x2="1298.7" y2="1578.64" stroke="#000" stroke-width="3" />
<line x1="1289.3" y1="1483.18" x2="1298.7" y2="1483.18" stroke="#000" stroke-width="3" />
<line x1="1289.3" y1="1387.72" x2="1298.7" y2="1387.72" stroke="#000" stroke-width="3" />
<line x1="1289.3" y1="1292.26" x2="1298.7" y2="1292.26" stroke="#000" stroke-width="3" />
<line x1="1289.3" y1="1196.8" x2="1298.7" y2="1196.8" stroke="#000" stroke-width="3" />
<line x1="1289.3" y1="1626.37" x2="1294.5" y2="1626.37" stroke="#000" stroke-width="3" />
<line x1="1289.3" y1="1530.91" x2="1294.5" y2="1530.91" stroke="#000" stroke-width="3" />
<line x1="1289.3" y1="1435.45" x2="1294.5" y2="1435.45" stroke="#000" stroke-width="3" />
<line x1="1289.3" y1="1339.99" x2="1294.5" y2="1339.99" stroke="#000" stroke-width="3" />
<line x1="1289.3" y1="1244.53" x2="1294.5" y2="1244.53" stroke="#000" stroke-width="3" />
<text font-size="30" text-anchor="end" fill="#000" transform="translate(825.5 1684.1) scale(0.9700 1)">0.0</text>
<text font-size="30" text-anchor="end" fill="#000" transform="translate(825.5 1578.06) scale(0.9700 1)">0.4</text>
<text font-size="30" text-anchor="end" fill="#000" transform="translate(825.5 1472.02) scale(0.9700 1)">0.8</text>
<text font-size="30" text-anchor="end" fill="#000" transform="translate(825.5 1365.98) scale(0.9700 1)">1.2</text>
<text font-size="30" text-anchor="end" fill="#000" transform="translate(825.5 1259.94) scale(0.9700 1)">1.6</text>
<text font-size="30" text-anchor="start" fill="#000" transform="translate(1304.8 1684.1) scale(0.9700 1)">0.0</text>
<text font-size="30" text-anchor="start" fill="#000" transform="translate(1304.8 1588.64) scale(0.9700 1)">0.2</text>
<text font-size="30" text-anchor="start" fill="#000" transform="translate(1304.8 1493.18) scale(0.9700 1)">0.4</text>
<text font-size="30" text-anchor="start" fill="#000" transform="translate(1304.8 1397.72) scale(0.9700 1)">0.6</text>
<text font-size="30" text-anchor="start" fill="#000" transform="translate(1304.8 1302.26) scale(0.9700 1)">0.8</text>
<text font-size="30" text-anchor="start" fill="#000" transform="translate(1304.8 1206.8) scale(0.9700 1)">1.0</text>
<text x="929.9" y="1624.2" font-size="31" font-weight="bold" text-anchor="start" fill="#000" transform="rotate(-90 929.9 1624.2)">RhMo NSs/C</text>
<text x="1002.2" y="1617.4" font-size="31" font-weight="bold" text-anchor="start" fill="#000" transform="rotate(-90 1002.2 1617.4)">Pt/C</text>
<text x="1157" y="1617.4" font-size="31" font-weight="bold" text-anchor="start" fill="#000" transform="rotate(-90 1157 1617.4)">RhMo NSs/C</text>
<text x="1231" y="1620.8" font-size="31" font-weight="bold" text-anchor="start" fill="#000" transform="rotate(-90 1231 1620.8)">Pt/C</text>
<text font-size="31" font-weight="bold" text-anchor="middle" transform="translate(954.5 1712.7) scale(0.957 1)">H<tspan font-size="21" dy="7">2</tspan><tspan dy="-7">-O</tspan><tspan font-size="21" dy="7">2</tspan></text>
<text font-size="30.5" font-weight="bold" text-anchor="middle" transform="translate(1173.2 1717.6) scale(0.98 1)">H<tspan font-size="21" dy="7">2</tspan><tspan dy="-7">-Air (CO</tspan><tspan font-size="21" dy="7">2</tspan><tspan dy="-7">-free)</tspan></text>
<text x="771" y="1436.7" font-size="37" font-weight="bold" text-anchor="middle" transform="rotate(-90 771 1436.7)">P<tspan font-size="25" dy="9">max</tspan><tspan dy="-9"> (W cm</tspan><tspan font-size="25" dy="-14">-2</tspan><tspan dy="14">)</tspan></text>
<text x="1392.5" y="1436.7" font-size="37" font-weight="bold" text-anchor="middle" transform="rotate(-90 1392.5 1436.7)">P<tspan font-size="25" dy="9">max</tspan><tspan dy="-9"> (W cm</tspan><tspan font-size="25" dy="-14">-2</tspan><tspan dy="14">)</tspan></text>
<text x="741" y="1227.6" font-size="58" font-weight="bold" text-anchor="start" fill="#000">g</text>
<polyline points="1535.7,1438.8 1535.7,1359.5 1536.3,1432.4 1537.5,1420 1539.5,1387.4 1541,1388 1542.7,1391.9 1545.2,1395.7 1546.5,1432.4 1547.8,1407 1549,1400.7 1550.3,1428.6 1550.9,1402 1552.8,1403 1553.5,1429.9 1554.7,1396.9 1557.9,1403.3 1561.7,1407.1 1563.6,1418.5 1566.8,1415.3 1571.9,1419.8 1575.7,1420.4 1577.6,1393.1 1580.7,1399.5 1584.5,1407.1 1585.8,1416 1590.9,1412.1 1598.5,1421 1601.7,1433.1 1603.3,1402.6 1606.1,1409.6 1611.2,1409 1613.7,1412.1 1616.2,1419.8 1621.3,1424.8 1625.1,1426.1 1626.4,1418.5 1629.6,1416.6 1630.8,1425.5 1634,1422.3 1639.1,1424.8 1641.6,1427.4 1644.1,1419.1 1647.9,1419.8 1649.8,1429.3 1658.1,1429.3 1659.4,1405.2 1661.9,1412.1 1665.7,1415.9 1670.8,1426.1 1675.8,1427.4 1677.1,1420.4 1682.2,1421.7 1686,1423.6 1687.3,1426.1 1689.2,1414.7 1692.3,1419.1 1696.1,1421 1698.7,1428.6 1705,1430.5 1710.1,1431.2 1712.6,1421 1714.5,1414.7 1716.4,1423.6 1720.2,1419.8 1722.8,1422.3 1727.8,1428.6 1730.4,1448.9 1732.9,1428.6 1734.2,1419.1 1738,1420.4 1740.5,1437.5 1743.1,1424.8 1746.9,1423.6 1748.8,1403.9 1750.7,1414.7 1753.2,1415.9 1758.3,1426.1 1760.8,1431.2 1765.9,1429.9 1767.2,1419.1 1771,1419.1 1774.1,1415.9 1777.3,1428.6 1782.4,1429.3 1784.9,1434.1 1787.3,1420.1 1792.8,1417.1 1795.9,1419.5 1797.7,1438.4 1798.9,1426.2 1805.6,1430.5 1808,1430.5 1809.9,1419.5 1815.4,1418.3 1818.4,1427.4 1825.1,1432.9 1828.8,1428 1838.5,1433.5 1841.6,1425.6 1846.5,1420.7 1849.5,1423.2 1850.1,1437.2 1853.2,1429.3 1855,1448.8 1856.8,1428 1858.7,1411.6 1862.9,1412.2 1866.6,1417.1 1870.2,1429.3 1870.5,1464.6 1873.3,1420.7 1876.3,1422 1877.6,1398.8 1880,1409.8 1883.7,1413.4 1887.9,1425.6 1888.5,1437.8 1891.6,1447.6 1893.4,1435.4 1895.9,1402.4 1896.5,1434.1 1898.3,1422 1900.7,1420.1 1903.2,1425.6 1906.8,1426.8 1914.1,1439 1915.4,1425.6 1920.2,1430.5 1923.9,1434.1 1930.6,1439 1931.2,1447.6 1933.7,1421.3 1937.9,1430.5 1942.2,1431.7 1946.5,1434.1 1949.5,1449.4 1952.6,1418.3 1955.6,1432.9 1958.7,1434.1 1961.7,1437.8 1964.8,1445.1 1971.5,1442.7 1974.5,1429.3 1978.2,1431.7 1981.2,1440.2 1987.3,1439 1991,1450 1993.4,1430.5 1997.1,1433.5 2003.2,1438.4 2008,1442.7 2009.3,1447.6 2011.1,1434.1 2012.3,1447.6 2015.4,1437.8 2019.6,1440.9" fill="none" stroke="#f7157f" stroke-width="3" stroke-linejoin="round" stroke-linecap="round" stroke-linejoin="miter"/>
<rect x="1534.9" y="1199.2" width="485.2" height="476.7" fill="none" stroke="#000" stroke-width="3"/>
<line x1="1534.9" y1="1608.1" x2="1524.9" y2="1608.1" stroke="#000" stroke-width="3" />
<line x1="1534.9" y1="1471.8" x2="1524.9" y2="1471.8" stroke="#000" stroke-width="3" />
<line x1="1534.9" y1="1335.5" x2="1524.9" y2="1335.5" stroke="#000" stroke-width="3" />
<line x1="1534.9" y1="1199.2" x2="1524.9" y2="1199.2" stroke="#000" stroke-width="3" />
<line x1="1534.9" y1="1676.25" x2="1529.4" y2="1676.25" stroke="#000" stroke-width="3" />
<line x1="1534.9" y1="1539.95" x2="1529.4" y2="1539.95" stroke="#000" stroke-width="3" />
<line x1="1534.9" y1="1403.65" x2="1529.4" y2="1403.65" stroke="#000" stroke-width="3" />
<line x1="1534.9" y1="1267.35" x2="1529.4" y2="1267.35" stroke="#000" stroke-width="3" />
<line x1="1534.9" y1="1675.9" x2="1534.9" y2="1685.9" stroke="#000" stroke-width="3" />
<line x1="1615.77" y1="1675.9" x2="1615.77" y2="1685.9" stroke="#000" stroke-width="3" />
<line x1="1696.63" y1="1675.9" x2="1696.63" y2="1685.9" stroke="#000" stroke-width="3" />
<line x1="1777.5" y1="1675.9" x2="1777.5" y2="1685.9" stroke="#000" stroke-width="3" />
<line x1="1858.36" y1="1675.9" x2="1858.36" y2="1685.9" stroke="#000" stroke-width="3" />
<line x1="1939.22" y1="1675.9" x2="1939.22" y2="1685.9" stroke="#000" stroke-width="3" />
<line x1="2020.09" y1="1675.9" x2="2020.09" y2="1685.9" stroke="#000" stroke-width="3" />
<line x1="1575.33" y1="1675.9" x2="1575.33" y2="1681.4" stroke="#000" stroke-width="3" />
<line x1="1656.2" y1="1675.9" x2="1656.2" y2="1681.4" stroke="#000" stroke-width="3" />
<line x1="1737.06" y1="1675.9" x2="1737.06" y2="1681.4" stroke="#000" stroke-width="3" />
<line x1="1817.93" y1="1675.9" x2="1817.93" y2="1681.4" stroke="#000" stroke-width="3" />
<line x1="1898.79" y1="1675.9" x2="1898.79" y2="1681.4" stroke="#000" stroke-width="3" />
<line x1="1979.66" y1="1675.9" x2="1979.66" y2="1681.4" stroke="#000" stroke-width="3" />
<text font-size="31" text-anchor="end" fill="#000" transform="translate(1518 1618.1) scale(0.9530 1)">0.0</text>
<text font-size="31" text-anchor="end" fill="#000" transform="translate(1518 1481.8) scale(0.9530 1)">0.4</text>
<text font-size="31" text-anchor="end" fill="#000" transform="translate(1518 1345.5) scale(0.9530 1)">0.8</text>
<text font-size="31" text-anchor="end" fill="#000" transform="translate(1518 1209.2) scale(0.9530 1)">1.2</text>
<text x="1534.9" y="1715.4" font-size="29" font-weight="bold" text-anchor="middle" fill="#000">0</text>
<text x="1615.77" y="1715.4" font-size="29" font-weight="bold" text-anchor="middle" fill="#000">5</text>
<text x="1696.63" y="1715.4" font-size="29" font-weight="bold" text-anchor="middle" fill="#000">10</text>
<text x="1777.5" y="1715.4" font-size="29" font-weight="bold" text-anchor="middle" fill="#000">15</text>
<text x="1858.36" y="1715.4" font-size="29" font-weight="bold" text-anchor="middle" fill="#000">20</text>
<text x="1939.22" y="1715.4" font-size="29" font-weight="bold" text-anchor="middle" fill="#000">25</text>
<text x="2020.09" y="1715.4" font-size="29" font-weight="bold" text-anchor="middle" fill="#000">30</text>
<text font-size="30.5" font-weight="bold" transform="translate(1829.8 1249.5) scale(1.025 1)">@0.5 A cm<tspan font-size="20" dx="2" dy="-14.5">-2</tspan></text>
<text x="1778.5" y="1771" font-size="36.3" font-weight="bold" text-anchor="middle" fill="#000">Time (h)</text>
<text x="1464.5" y="1437.5" font-size="36.5" font-weight="bold" text-anchor="middle" fill="#000" transform="rotate(-90 1464.5 1437.5)">Cell voltage (V)</text>
<text x="1434.5" y="1231.9" font-size="58" font-weight="bold" text-anchor="start" fill="#000">h</text>
</svg></body></html>
